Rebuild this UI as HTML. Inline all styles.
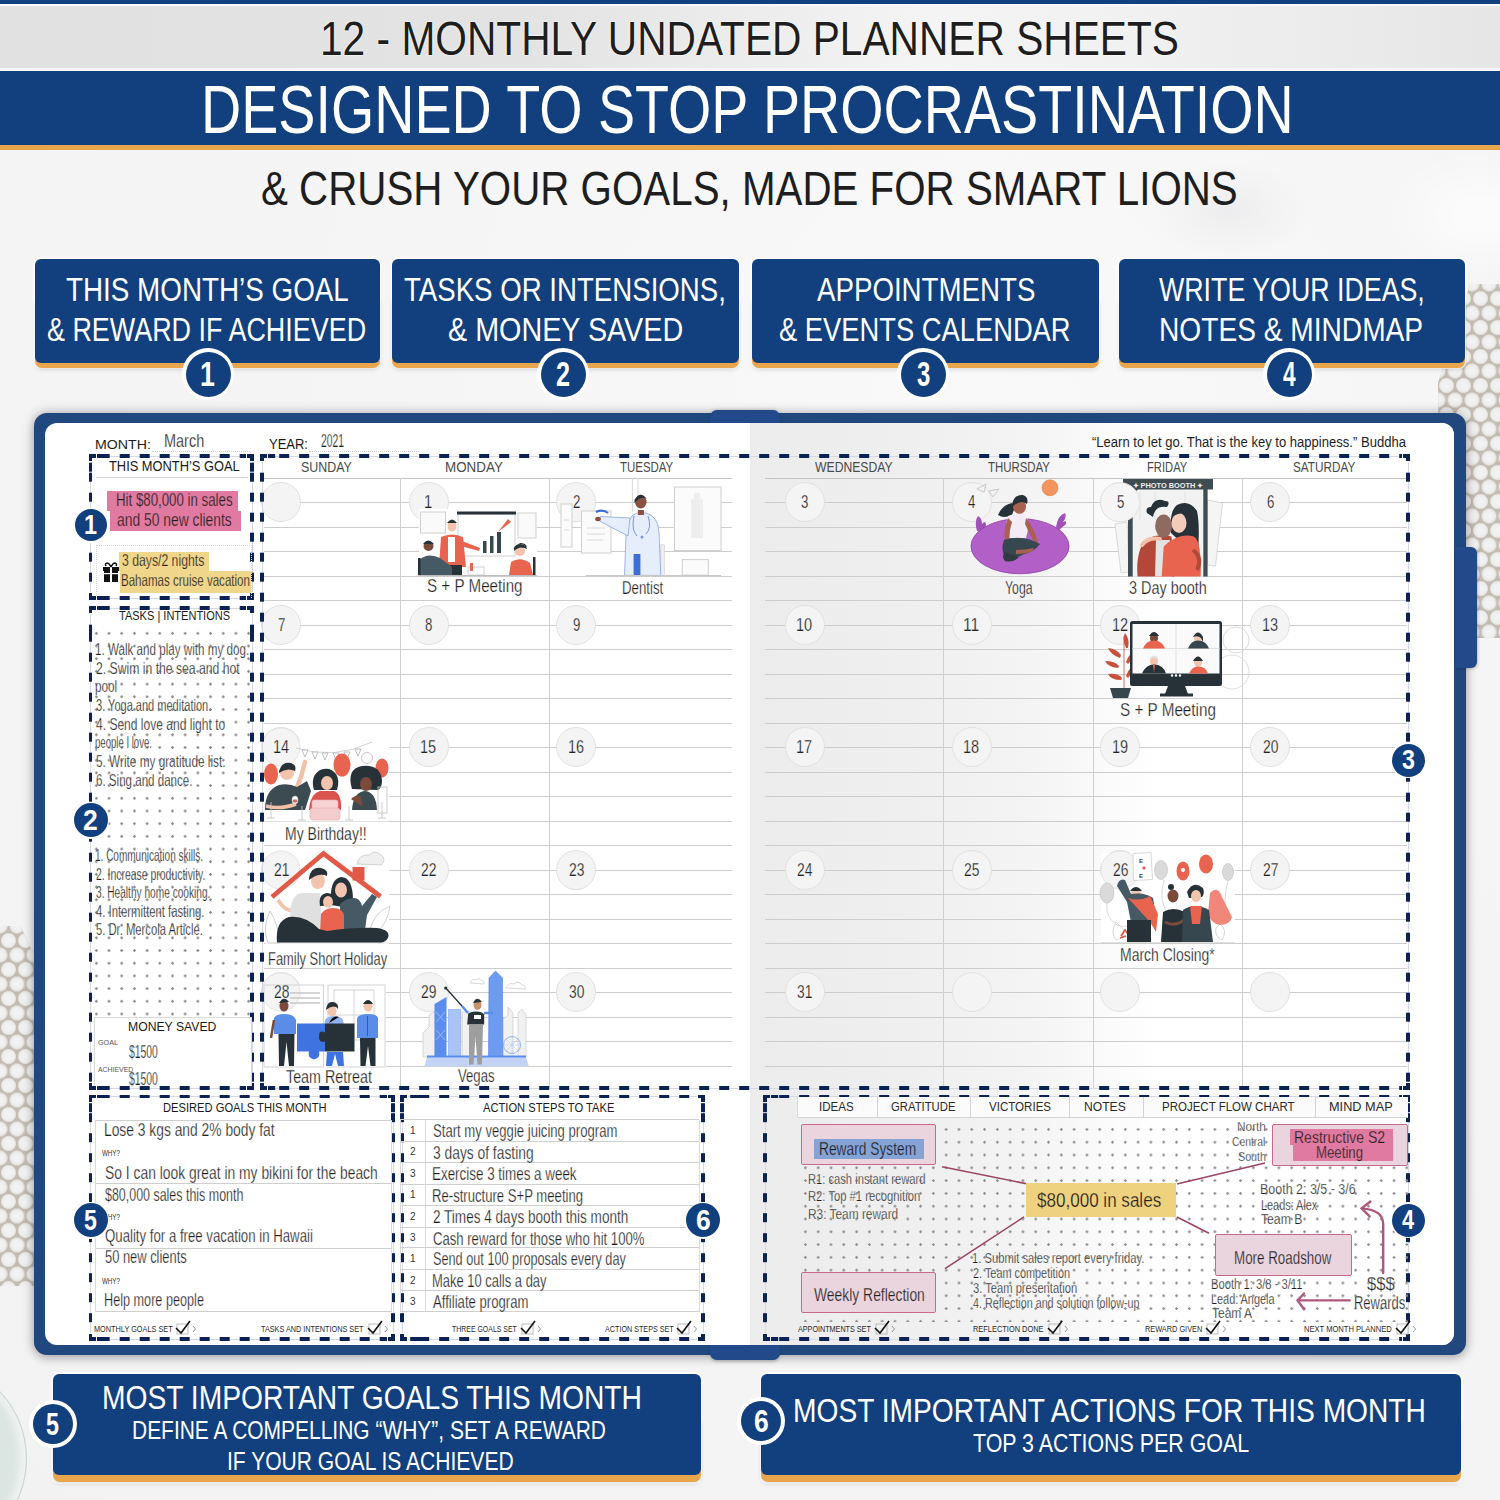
<!DOCTYPE html><html><head><meta charset="utf-8"><style>html,body{margin:0;padding:0;}body{width:1500px;height:1500px;position:relative;overflow:hidden;background:#f5f4f5;font-family:"Liberation Sans",sans-serif;}.t{position:absolute;white-space:nowrap;line-height:1;transform-origin:0 0;}</style></head><body><div style="position:absolute;left:0;top:150px;width:1500px;height:1350px;background:radial-gradient(ellipse at 65% 20%,#faf9fa 0%,#f6f5f6 45%,#f3f2f3 100%);"></div>
<div style="position:absolute;left:1380px;top:150px;width:200px;height:130px;border-radius:50%;background:radial-gradient(ellipse at 50% 50%,rgba(255,255,255,0.7),rgba(255,255,255,0) 70%);"></div>
<div style="position:absolute;left:1150px;top:160px;width:160px;height:100px;border-radius:50%;background:radial-gradient(ellipse at 50% 50%,rgba(228,228,230,0.55),rgba(240,240,240,0) 70%);"></div>
<div style="position:absolute;left:-150px;top:1365px;width:175px;height:185px;border-radius:50%;background:#dbe5e1;border:1.5px solid #c8d3cf;box-shadow:inset -6px 0 10px rgba(255,255,255,0.6);"></div>
<div style="position:absolute;left:1438px;top:284px;width:62px;height:354px;background-color:#c2bbb2;background-image:radial-gradient(circle at 50% 50%,#f4f4f4 0,#eeeeee 5.8px,#e2dfda 7.2px,rgba(0,0,0,0) 7.8px),radial-gradient(circle at 50% 50%,#f4f4f4 0,#eeeeee 5.8px,#e2dfda 7.2px,rgba(0,0,0,0) 7.8px);background-size:17px 29px;background-position:0 0,8.5px 14.5px;clip-path:polygon(52% 0,100% 0,100% 100%,4% 100%,0 28%);"></div>
<div style="position:absolute;left:0px;top:926px;width:34px;height:360px;background-color:#c2bbb2;background-image:radial-gradient(circle at 50% 50%,#f4f4f4 0,#eeeeee 5.8px,#e2dfda 7.2px,rgba(0,0,0,0) 7.8px),radial-gradient(circle at 50% 50%,#f4f4f4 0,#eeeeee 5.8px,#e2dfda 7.2px,rgba(0,0,0,0) 7.8px);background-size:17px 29px;background-position:0 0,8.5px 14.5px;clip-path:polygon(0 0,60% 0,100% 8%,100% 100%,0 100%);"></div>
<div style="position:absolute;left:0px;top:0px;width:1500px;height:4px;background:#123f7d"></div>
<div style="position:absolute;left:0px;top:4px;width:1500px;height:2px;background:#fafafa"></div>
<div style="position:absolute;left:0px;top:6px;width:1500px;height:62px;background:linear-gradient(90deg,#e1e1e1 0%,#e3e3e3 35%,#f4f4f4 62%,#f1f1f1 75%,#e6e6e6 100%)"></div>
<div style="position:absolute;left:0px;top:68px;width:1500px;height:3px;background:#f6f6f6"></div>
<div style="position:absolute;left:0px;top:71px;width:1500px;height:74px;background:#123f7d"></div>
<div style="position:absolute;left:0px;top:145px;width:1500px;height:5px;background:#e8a54b"></div>
<div class="t" id="t1" style="left:320.49px;top:13.61px;font-size:48.55px;color:#1e1e1e;font-weight:400;font-family:'Liberation Sans',sans-serif;transform:scaleX(0.8379);text-shadow:0 0 2px #fff,0 0 2px #fff;">12 - MONTHLY UNDATED PLANNER SHEETS</div>
<div class="t" id="t2" style="left:200.95px;top:75.80px;font-size:68.75px;color:#ffffff;font-weight:400;font-family:'Liberation Sans',sans-serif;transform:scaleX(0.8096);">DESIGNED TO STOP PROCRASTINATION</div>
<div class="t" id="t3" style="left:261.15px;top:165.19px;font-size:47.38px;color:#1e1e1e;font-weight:400;font-family:'Liberation Sans',sans-serif;transform:scaleX(0.8510);">&amp; CRUSH YOUR GOALS, MADE FOR SMART LIONS</div>
<div style="position:absolute;left:33.3px;top:257.3px;width:347.9px;height:112px;border-radius:7px;background:rgba(255,255,255,0.85);"></div>
<div style="position:absolute;left:34.5px;top:300px;width:345.5px;height:68px;border-radius:0 0 7px 7px;background:#e8a54b;box-shadow:0 2px 4px rgba(0,0,0,0.12);"></div>
<div style="position:absolute;left:34.5px;top:258.5px;width:345.5px;height:104px;border-radius:6px;background:#123f7d;"></div>
<div class="t" id="t4" style="left:66.00px;top:273.45px;font-size:33.14px;color:#fff;font-weight:400;font-family:'Liberation Sans',sans-serif;transform:scaleX(0.8398);">THIS MONTH&#8217;S GOAL</div>
<div class="t" id="t5" style="left:47.19px;top:313.45px;font-size:33.14px;color:#fff;font-weight:400;font-family:'Liberation Sans',sans-serif;transform:scaleX(0.8126);">&amp; REWARD IF ACHIEVED</div>
<div style="position:absolute;left:182px;top:348px;width:52px;height:52px;border-radius:50%;background:#fff;"></div>
<div style="position:absolute;left:185.5px;top:351.5px;width:45.0px;height:45.0px;border-radius:50%;background:#123f7d;"></div>
<div class="t" id="t6" style="left:200.13px;top:356.61px;font-size:35.61px;color:#fff;font-weight:700;font-family:'Liberation Sans',sans-serif;transform:scaleX(0.7494);">1</div>
<div style="position:absolute;left:390.8px;top:257.3px;width:349.4px;height:112px;border-radius:7px;background:rgba(255,255,255,0.85);"></div>
<div style="position:absolute;left:392px;top:300px;width:347px;height:68px;border-radius:0 0 7px 7px;background:#e8a54b;box-shadow:0 2px 4px rgba(0,0,0,0.12);"></div>
<div style="position:absolute;left:392px;top:258.5px;width:347px;height:104px;border-radius:6px;background:#123f7d;"></div>
<div class="t" id="t7" style="left:404.00px;top:273.45px;font-size:33.14px;color:#fff;font-weight:400;font-family:'Liberation Sans',sans-serif;transform:scaleX(0.8340);">TASKS OR INTENSIONS,</div>
<div class="t" id="t8" style="left:447.63px;top:313.45px;font-size:33.14px;color:#fff;font-weight:400;font-family:'Liberation Sans',sans-serif;transform:scaleX(0.8670);">&amp; MONEY SAVED</div>
<div style="position:absolute;left:537px;top:348px;width:52px;height:52px;border-radius:50%;background:#fff;"></div>
<div style="position:absolute;left:540.5px;top:351.5px;width:45.0px;height:45.0px;border-radius:50%;background:#123f7d;"></div>
<div class="t" id="t9" style="left:555.92px;top:356.61px;font-size:35.61px;color:#fff;font-weight:700;font-family:'Liberation Sans',sans-serif;transform:scaleX(0.7078);">2</div>
<div style="position:absolute;left:750.3px;top:257.3px;width:349.9px;height:112px;border-radius:7px;background:rgba(255,255,255,0.85);"></div>
<div style="position:absolute;left:751.5px;top:300px;width:347.5px;height:68px;border-radius:0 0 7px 7px;background:#e8a54b;box-shadow:0 2px 4px rgba(0,0,0,0.12);"></div>
<div style="position:absolute;left:751.5px;top:258.5px;width:347.5px;height:104px;border-radius:6px;background:#123f7d;"></div>
<div class="t" id="t10" style="left:816.50px;top:273.45px;font-size:33.14px;color:#fff;font-weight:400;font-family:'Liberation Sans',sans-serif;transform:scaleX(0.8357);">APPOINTMENTS</div>
<div class="t" id="t11" style="left:779.17px;top:313.45px;font-size:33.14px;color:#fff;font-weight:400;font-family:'Liberation Sans',sans-serif;transform:scaleX(0.8250);">&amp; EVENTS CALENDAR</div>
<div style="position:absolute;left:897px;top:348px;width:52px;height:52px;border-radius:50%;background:#fff;"></div>
<div style="position:absolute;left:900.5px;top:351.5px;width:45.0px;height:45.0px;border-radius:50%;background:#123f7d;"></div>
<div class="t" id="t12" style="left:916.63px;top:356.61px;font-size:35.61px;color:#fff;font-weight:700;font-family:'Liberation Sans',sans-serif;transform:scaleX(0.6705);">3</div>
<div style="position:absolute;left:1117.3px;top:257.3px;width:348.9px;height:112px;border-radius:7px;background:rgba(255,255,255,0.85);"></div>
<div style="position:absolute;left:1118.5px;top:300px;width:346.5px;height:68px;border-radius:0 0 7px 7px;background:#e8a54b;box-shadow:0 2px 4px rgba(0,0,0,0.12);"></div>
<div style="position:absolute;left:1118.5px;top:258.5px;width:346.5px;height:104px;border-radius:6px;background:#123f7d;"></div>
<div class="t" id="t13" style="left:1159.00px;top:273.45px;font-size:33.14px;color:#fff;font-weight:400;font-family:'Liberation Sans',sans-serif;transform:scaleX(0.8083);">WRITE YOUR IDEAS,</div>
<div class="t" id="t14" style="left:1159.30px;top:313.45px;font-size:33.14px;color:#fff;font-weight:400;font-family:'Liberation Sans',sans-serif;transform:scaleX(0.8492);">NOTES &amp; MINDMAP</div>
<div style="position:absolute;left:1263px;top:348px;width:52px;height:52px;border-radius:50%;background:#fff;"></div>
<div style="position:absolute;left:1266.5px;top:351.5px;width:45.0px;height:45.0px;border-radius:50%;background:#123f7d;"></div>
<div class="t" id="t15" style="left:1282.63px;top:356.61px;font-size:35.61px;color:#fff;font-weight:700;font-family:'Liberation Sans',sans-serif;transform:scaleX(0.6370);">4</div>
<div style="position:absolute;left:34px;top:413px;width:1432px;height:942px;border-radius:13px;background:#21477f;box-shadow:0 0 12px rgba(0,0,0,0.30),0 4px 8px rgba(0,0,0,0.12);"></div>
<div style="position:absolute;left:710px;top:410px;width:70px;height:16px;border-radius:7px 7px 0 0;background:#22498a;box-shadow:0 -1px 3px rgba(0,0,0,0.15);"></div>
<div style="position:absolute;left:710px;top:1342px;width:70px;height:18px;border-radius:0 0 7px 7px;background:#22498a;box-shadow:0 2px 3px rgba(0,0,0,0.2);"></div>
<div style="position:absolute;left:1455px;top:547px;width:22px;height:121px;border-radius:0 6px 6px 0;background:#22498a;box-shadow:1px 1px 3px rgba(0,0,0,0.2);"></div>
<div style="position:absolute;left:45px;top:423px;width:1409px;height:922px;border-radius:12px;background:#fff;overflow:hidden;"><div style="position:absolute;left:705px;top:0;width:704px;height:922px;background:linear-gradient(90deg,#ececec 0%,#efefef 22%,#f3f3f3 38%,#fafafa 50%,#ffffff 58%);"></div></div>
<div style="position:absolute;left:264px;top:477.5px;width:468px;height:1.2px;background:#c4c4c4;"></div>
<div style="position:absolute;left:765px;top:477.5px;width:642px;height:1.2px;background:#c4c4c4;"></div>
<div style="position:absolute;left:264px;top:502.0px;width:468px;height:1.2px;background:#cdcdcd;"></div>
<div style="position:absolute;left:765px;top:502.0px;width:642px;height:1.2px;background:#cdcdcd;"></div>
<div style="position:absolute;left:264px;top:526.5px;width:468px;height:1.2px;background:#cdcdcd;"></div>
<div style="position:absolute;left:765px;top:526.5px;width:642px;height:1.2px;background:#cdcdcd;"></div>
<div style="position:absolute;left:264px;top:551.0px;width:468px;height:1.2px;background:#cdcdcd;"></div>
<div style="position:absolute;left:765px;top:551.0px;width:642px;height:1.2px;background:#cdcdcd;"></div>
<div style="position:absolute;left:264px;top:575.5px;width:468px;height:1.2px;background:#cdcdcd;"></div>
<div style="position:absolute;left:765px;top:575.5px;width:642px;height:1.2px;background:#cdcdcd;"></div>
<div style="position:absolute;left:264px;top:600.0px;width:468px;height:1.2px;background:#cdcdcd;"></div>
<div style="position:absolute;left:765px;top:600.0px;width:642px;height:1.2px;background:#cdcdcd;"></div>
<div style="position:absolute;left:264px;top:624.5px;width:468px;height:1.2px;background:#cdcdcd;"></div>
<div style="position:absolute;left:765px;top:624.5px;width:642px;height:1.2px;background:#cdcdcd;"></div>
<div style="position:absolute;left:264px;top:649.0px;width:468px;height:1.2px;background:#cdcdcd;"></div>
<div style="position:absolute;left:765px;top:649.0px;width:642px;height:1.2px;background:#cdcdcd;"></div>
<div style="position:absolute;left:264px;top:673.5px;width:468px;height:1.2px;background:#cdcdcd;"></div>
<div style="position:absolute;left:765px;top:673.5px;width:642px;height:1.2px;background:#cdcdcd;"></div>
<div style="position:absolute;left:264px;top:698.0px;width:468px;height:1.2px;background:#cdcdcd;"></div>
<div style="position:absolute;left:765px;top:698.0px;width:642px;height:1.2px;background:#cdcdcd;"></div>
<div style="position:absolute;left:264px;top:722.5px;width:468px;height:1.2px;background:#cdcdcd;"></div>
<div style="position:absolute;left:765px;top:722.5px;width:642px;height:1.2px;background:#cdcdcd;"></div>
<div style="position:absolute;left:264px;top:747.0px;width:468px;height:1.2px;background:#cdcdcd;"></div>
<div style="position:absolute;left:765px;top:747.0px;width:642px;height:1.2px;background:#cdcdcd;"></div>
<div style="position:absolute;left:264px;top:771.5px;width:468px;height:1.2px;background:#cdcdcd;"></div>
<div style="position:absolute;left:765px;top:771.5px;width:642px;height:1.2px;background:#cdcdcd;"></div>
<div style="position:absolute;left:264px;top:796.0px;width:468px;height:1.2px;background:#cdcdcd;"></div>
<div style="position:absolute;left:765px;top:796.0px;width:642px;height:1.2px;background:#cdcdcd;"></div>
<div style="position:absolute;left:264px;top:820.5px;width:468px;height:1.2px;background:#cdcdcd;"></div>
<div style="position:absolute;left:765px;top:820.5px;width:642px;height:1.2px;background:#cdcdcd;"></div>
<div style="position:absolute;left:264px;top:845.0px;width:468px;height:1.2px;background:#cdcdcd;"></div>
<div style="position:absolute;left:765px;top:845.0px;width:642px;height:1.2px;background:#cdcdcd;"></div>
<div style="position:absolute;left:264px;top:869.5px;width:468px;height:1.2px;background:#cdcdcd;"></div>
<div style="position:absolute;left:765px;top:869.5px;width:642px;height:1.2px;background:#cdcdcd;"></div>
<div style="position:absolute;left:264px;top:894.0px;width:468px;height:1.2px;background:#cdcdcd;"></div>
<div style="position:absolute;left:765px;top:894.0px;width:642px;height:1.2px;background:#cdcdcd;"></div>
<div style="position:absolute;left:264px;top:918.5px;width:468px;height:1.2px;background:#cdcdcd;"></div>
<div style="position:absolute;left:765px;top:918.5px;width:642px;height:1.2px;background:#cdcdcd;"></div>
<div style="position:absolute;left:264px;top:943.0px;width:468px;height:1.2px;background:#cdcdcd;"></div>
<div style="position:absolute;left:765px;top:943.0px;width:642px;height:1.2px;background:#cdcdcd;"></div>
<div style="position:absolute;left:264px;top:967.5px;width:468px;height:1.2px;background:#cdcdcd;"></div>
<div style="position:absolute;left:765px;top:967.5px;width:642px;height:1.2px;background:#cdcdcd;"></div>
<div style="position:absolute;left:264px;top:992.0px;width:468px;height:1.2px;background:#cdcdcd;"></div>
<div style="position:absolute;left:765px;top:992.0px;width:642px;height:1.2px;background:#cdcdcd;"></div>
<div style="position:absolute;left:264px;top:1016.5px;width:468px;height:1.2px;background:#cdcdcd;"></div>
<div style="position:absolute;left:765px;top:1016.5px;width:642px;height:1.2px;background:#cdcdcd;"></div>
<div style="position:absolute;left:264px;top:1041.0px;width:468px;height:1.2px;background:#cdcdcd;"></div>
<div style="position:absolute;left:765px;top:1041.0px;width:642px;height:1.2px;background:#cdcdcd;"></div>
<div style="position:absolute;left:264px;top:1065.5px;width:468px;height:1.2px;background:#cdcdcd;"></div>
<div style="position:absolute;left:765px;top:1065.5px;width:642px;height:1.2px;background:#cdcdcd;"></div>
<div style="position:absolute;left:399.8px;top:478px;width:1px;height:610px;background:#d0d0d0;"></div>
<div style="position:absolute;left:548.5px;top:478px;width:1px;height:610px;background:#d0d0d0;"></div>
<div style="position:absolute;left:942.5px;top:478px;width:1px;height:610px;background:#d0d0d0;"></div>
<div style="position:absolute;left:1092.5px;top:478px;width:1px;height:610px;background:#d0d0d0;"></div>
<div style="position:absolute;left:1241.5px;top:478px;width:1px;height:610px;background:#d0d0d0;"></div>
<div style="position:absolute;left:261px;top:482.2px;width:38px;height:38px;border-radius:50%;background:#f4f4f4;border:1.2px solid #e1e1e1;"></div>
<div style="position:absolute;left:408.6px;top:482.2px;width:38px;height:38px;border-radius:50%;background:#f4f4f4;border:1.2px solid #e1e1e1;"></div>
<div style="position:absolute;left:556.4px;top:482.2px;width:38px;height:38px;border-radius:50%;background:#f4f4f4;border:1.2px solid #e1e1e1;"></div>
<div style="position:absolute;left:784.5px;top:482.2px;width:38px;height:38px;border-radius:50%;background:#f4f4f4;border:1.2px solid #e1e1e1;"></div>
<div style="position:absolute;left:951.5px;top:482.2px;width:38px;height:38px;border-radius:50%;background:#f4f4f4;border:1.2px solid #e1e1e1;"></div>
<div style="position:absolute;left:1100px;top:482.2px;width:38px;height:38px;border-radius:50%;background:#f4f4f4;border:1.2px solid #e1e1e1;"></div>
<div style="position:absolute;left:1250px;top:482.2px;width:38px;height:38px;border-radius:50%;background:#f4f4f4;border:1.2px solid #e1e1e1;"></div>
<div style="position:absolute;left:261px;top:604.7px;width:38px;height:38px;border-radius:50%;background:#f4f4f4;border:1.2px solid #e1e1e1;"></div>
<div style="position:absolute;left:408.6px;top:604.7px;width:38px;height:38px;border-radius:50%;background:#f4f4f4;border:1.2px solid #e1e1e1;"></div>
<div style="position:absolute;left:556.4px;top:604.7px;width:38px;height:38px;border-radius:50%;background:#f4f4f4;border:1.2px solid #e1e1e1;"></div>
<div style="position:absolute;left:784.5px;top:604.7px;width:38px;height:38px;border-radius:50%;background:#f4f4f4;border:1.2px solid #e1e1e1;"></div>
<div style="position:absolute;left:951.5px;top:604.7px;width:38px;height:38px;border-radius:50%;background:#f4f4f4;border:1.2px solid #e1e1e1;"></div>
<div style="position:absolute;left:1100px;top:604.7px;width:38px;height:38px;border-radius:50%;background:#f4f4f4;border:1.2px solid #e1e1e1;"></div>
<div style="position:absolute;left:1250px;top:604.7px;width:38px;height:38px;border-radius:50%;background:#f4f4f4;border:1.2px solid #e1e1e1;"></div>
<div style="position:absolute;left:261px;top:727.2px;width:38px;height:38px;border-radius:50%;background:#f4f4f4;border:1.2px solid #e1e1e1;"></div>
<div style="position:absolute;left:408.6px;top:727.2px;width:38px;height:38px;border-radius:50%;background:#f4f4f4;border:1.2px solid #e1e1e1;"></div>
<div style="position:absolute;left:556.4px;top:727.2px;width:38px;height:38px;border-radius:50%;background:#f4f4f4;border:1.2px solid #e1e1e1;"></div>
<div style="position:absolute;left:784.5px;top:727.2px;width:38px;height:38px;border-radius:50%;background:#f4f4f4;border:1.2px solid #e1e1e1;"></div>
<div style="position:absolute;left:951.5px;top:727.2px;width:38px;height:38px;border-radius:50%;background:#f4f4f4;border:1.2px solid #e1e1e1;"></div>
<div style="position:absolute;left:1100px;top:727.2px;width:38px;height:38px;border-radius:50%;background:#f4f4f4;border:1.2px solid #e1e1e1;"></div>
<div style="position:absolute;left:1250px;top:727.2px;width:38px;height:38px;border-radius:50%;background:#f4f4f4;border:1.2px solid #e1e1e1;"></div>
<div style="position:absolute;left:261px;top:849.7px;width:38px;height:38px;border-radius:50%;background:#f4f4f4;border:1.2px solid #e1e1e1;"></div>
<div style="position:absolute;left:408.6px;top:849.7px;width:38px;height:38px;border-radius:50%;background:#f4f4f4;border:1.2px solid #e1e1e1;"></div>
<div style="position:absolute;left:556.4px;top:849.7px;width:38px;height:38px;border-radius:50%;background:#f4f4f4;border:1.2px solid #e1e1e1;"></div>
<div style="position:absolute;left:784.5px;top:849.7px;width:38px;height:38px;border-radius:50%;background:#f4f4f4;border:1.2px solid #e1e1e1;"></div>
<div style="position:absolute;left:951.5px;top:849.7px;width:38px;height:38px;border-radius:50%;background:#f4f4f4;border:1.2px solid #e1e1e1;"></div>
<div style="position:absolute;left:1100px;top:849.7px;width:38px;height:38px;border-radius:50%;background:#f4f4f4;border:1.2px solid #e1e1e1;"></div>
<div style="position:absolute;left:1250px;top:849.7px;width:38px;height:38px;border-radius:50%;background:#f4f4f4;border:1.2px solid #e1e1e1;"></div>
<div style="position:absolute;left:261px;top:972.2px;width:38px;height:38px;border-radius:50%;background:#f4f4f4;border:1.2px solid #e1e1e1;"></div>
<div style="position:absolute;left:408.6px;top:972.2px;width:38px;height:38px;border-radius:50%;background:#f4f4f4;border:1.2px solid #e1e1e1;"></div>
<div style="position:absolute;left:556.4px;top:972.2px;width:38px;height:38px;border-radius:50%;background:#f4f4f4;border:1.2px solid #e1e1e1;"></div>
<div style="position:absolute;left:784.5px;top:972.2px;width:38px;height:38px;border-radius:50%;background:#f4f4f4;border:1.2px solid #e1e1e1;"></div>
<div style="position:absolute;left:951.5px;top:972.2px;width:38px;height:38px;border-radius:50%;background:#f4f4f4;border:1.2px solid #e1e1e1;"></div>
<div style="position:absolute;left:1100px;top:972.2px;width:38px;height:38px;border-radius:50%;background:#f4f4f4;border:1.2px solid #e1e1e1;"></div>
<div style="position:absolute;left:1250px;top:972.2px;width:38px;height:38px;border-radius:50%;background:#f4f4f4;border:1.2px solid #e1e1e1;"></div>
<svg style="position:absolute;left:0;top:0;" width="1500" height="1500" viewBox="0 0 1500 1500"><rect x="419" y="509" width="118" height="67" fill="#fff"/><g stroke="#d0d0d0" stroke-width="1" fill="#fafafa"><rect x="420.5" y="512" width="25" height="21"/><rect x="518" y="513" width="18" height="25"/><rect x="458" y="514" width="57" height="42" fill="#fff"/></g><rect x="457" y="511.5" width="59" height="3" fill="#263238"/><g fill="#37474f"><rect x="483" y="541" width="3.5" height="12"/><rect x="490" y="536" width="3.5" height="17"/><rect x="497" y="532" width="4" height="21"/></g><path d="M498 532 L508 519 L511 522 Z" fill="#e8644e"/><ellipse cx="452" cy="526" rx="4.5" ry="5.5" fill="#f2c4ae"/><path d="M447 523 Q452 516 457 523 Z" fill="#263238"/><path d="M441 537 Q452 532 463 537 L466 567 L439 567 Z" fill="#e8644e"/><rect x="448" y="537" width="7" height="25" fill="#fff"/><path d="M462 541 L480 548 L479 551 L461 546 Z" fill="#e8644e"/><rect x="444" y="565" width="18" height="10" fill="#263238"/><circle cx="428.5" cy="546" r="5" fill="#7a4a3a"/><path d="M423 544 Q428 537 434 544 Z" fill="#263238"/><path d="M419 575 L419 560 Q428 552 440 558 L452 567 L452 575 Z" fill="#455a64"/><rect x="418" y="558" width="2.5" height="17" fill="#263238"/><circle cx="520" cy="551" r="5" fill="#f2c4ae"/><path d="M513 549 Q519 540 527 547 Q526 543 520 543 Z" fill="#263238"/><path d="M514 548 Q518 541 526 546 L527 549 Q520 545 514 551 Z" fill="#263238"/><path d="M509 575 L511 562 Q520 556 530 563 L533 575 Z" fill="#e8644e"/><rect x="533" y="557" width="2.5" height="18" fill="#263238"/><rect x="468" y="567" width="16" height="8" fill="none" stroke="#cfcfcf"/><rect x="470" y="563" width="3" height="8" fill="#e8644e"/><line x1="418" y1="575.5" x2="537" y2="575.5" stroke="#bdbdbd" stroke-width="1"/><g stroke="#cfcfcf" stroke-width="1" fill="#fbfbfb"><rect x="561" y="504" width="11" height="43"/><rect x="581.5" y="511" width="29.5" height="42"/><rect x="674.5" y="487" width="46.5" height="63.5"/><rect x="682.3" y="559.6" width="26" height="15.5"/></g><g stroke="#d8d8d8" stroke-width="1"><line x1="632.4" y1="478" x2="632.4" y2="512"/><line x1="638" y1="478" x2="638" y2="512"/><line x1="564" y1="520" x2="569" y2="520"/><line x1="564" y1="530" x2="569" y2="530"/></g><g stroke="#e0e0e0" stroke-width="1.3"><line x1="587" y1="528" x2="605" y2="528"/><line x1="587" y1="534" x2="605" y2="534"/><line x1="587" y1="540" x2="603" y2="540"/></g><path d="M691 500 q6 -5 12 0 v38 h-12 z" fill="#eeeeee"/><circle cx="697" cy="496" r="3.5" fill="#eeeeee"/><rect x="660.8" y="544.8" width="3.5" height="30.5" fill="#f0f0f0" stroke="#cfcfcf" stroke-width="0.7"/><path d="M596 512 Q603 509 608 513" stroke="#3b6fd6" stroke-width="2.2" fill="none"/><path d="M624.5 575.4 L626 535 Q627 516 637 513 L646 513 Q658 516 659 532 L660.8 575.4 Z" fill="#e6edfb" stroke="#8aa4e0" stroke-width="0.8"/><path d="M630 518 L600 516.5 L599.5 521 L628 536 Z" fill="#e6edfb" stroke="#8aa4e0" stroke-width="0.8"/><ellipse cx="598" cy="519" rx="2.8" ry="2.2" fill="#8a5240"/><path d="M633.6 554 L640.4 554 L640.4 575.4 L633.6 575.4 Z" fill="#3b6fd6"/><path d="M638 510 h6 v5 h-6 z" fill="#8a5240"/><ellipse cx="640.8" cy="502" rx="5.8" ry="6.5" fill="#8a5240"/><path d="M634.5 500 Q640 490 647 499 Q641 495 634.5 503 Z" fill="#263238"/><path d="M634 516 Q631 530 637 536 M648 516 Q652 528 646 534" stroke="#7d96d6" stroke-width="1" fill="none"/><circle cx="642" cy="537" r="1.5" fill="#7d96d6"/><line x1="586" y1="575.5" x2="721" y2="575.5" stroke="#c8c8c8" stroke-width="1.2"/><path d="M977 489 l9 -5 l-2 8 z M989 491 l10 -2 l-6 8 z" fill="none" stroke="#c9c9c9" stroke-width="1"/><circle cx="1050" cy="487.8" r="8" fill="#f2955f" stroke="#de7d4a" stroke-width="0.6"/><path d="M977 531 q-3 -10 1 -15 q4 2 4 8 q3 -4 4 0 l-1 9 z M1056 527 q2 -12 9 -14 q2 4 -2 9 q4 -2 3 2 l-7 6 z" fill="#a052b8"/><ellipse cx="1020" cy="546.2" rx="49" ry="27.6" fill="#b35fc8" stroke="#8e3fa6" stroke-width="0.8"/><path d="M1012 503 q-10 2 -14 12 q6 4 14 0 q2 -6 4 -8 z" fill="#263238"/><ellipse cx="1019.5" cy="506.5" rx="6.5" ry="7.5" fill="#a8614f"/><path d="M1012 505 q2 -11 11 -10 q6 2 4 9 q-6 -5 -15 3 z" fill="#263238"/><path d="M1008 538 q-4 -10 0 -22 q6 -3 18 -2 q4 12 0 24 z" fill="#f4ecf4"/><path d="M1008 518 q-6 14 -2 30 l4 0 q-2 -14 2 -26 z M1026 518 q8 10 12 24 l-3 2 q-6 -12 -10 -20 z" fill="#a8614f"/><path d="M1004 540 q18 -6 36 4 q-6 8 -16 10 q-10 6 -18 4 q-6 -8 -2 -18 z" fill="#37474f"/><path d="M1005 552 q-4 4 0 9 q8 2 14 -4 z" fill="#2f3b40"/><path d="M1016 550 q10 0 18 -2 l-2 4 q-8 2 -16 2 z" fill="#a8614f"/><g fill="#f5f5f5" stroke="#d0d0d0" stroke-width="0.8"><path d="M1115 524 l12 -2 l2 50 l-8 1 z"/><path d="M1207.5 500 l15 3 l-7 63 l-8 -1 z"/></g><rect x="1132.5" y="489" width="71" height="87.5" fill="#f2f2f2"/><g stroke="#e2e2e2" stroke-width="1"><line x1="1140" y1="492" x2="1140" y2="520"/><line x1="1155" y1="492" x2="1155" y2="520"/><line x1="1185" y1="492" x2="1185" y2="520"/></g><path d="M1123 479 h90 v10.6 h-75 l-4 3 h-11 z" fill="#3f4c52"/><text x="1168" y="487.6" font-size="7.4" font-family="Liberation Sans" font-weight="700" fill="#f0f0f0" text-anchor="middle">&#10022; PHOTO BOOTH &#10022;</text><rect x="1128" y="489" width="4.7" height="87.5" fill="#3f4c52"/><rect x="1203.3" y="489" width="4.3" height="87.5" fill="#3f4c52"/><path d="M1171 533 q-2 -22 6 -28 q12 -6 20 6 q3 14 1 42 l-12 -6 z" fill="#263238"/><path d="M1137.5 576.5 q-2 -28 10 -38 q12 -6 24 -2 l3 40 z" fill="#b3473a"/><path d="M1156 540 h14 l2 36.5 h-17 z" fill="#e3e3e3"/><path d="M1161.7 576.5 l2 -30 q14 -14 30 -10 q8 4 7 40 z" fill="#e8644e"/><ellipse cx="1163.6" cy="526" rx="8.5" ry="11.5" fill="#8f6a60"/><path d="M1153 517 q2 -12 14 -10 q4 -6 -2 -6 q-10 -4 -14 6 q-6 0 -4 6 z" fill="#263238"/><ellipse cx="1179" cy="523" rx="7.5" ry="10" fill="#f3cbb9"/><path d="M1172 515 q6 -10 16 -8 l-4 6 q-6 0 -12 4 z" fill="#263238"/><path d="M1142 545 q6 -8 18 -6" stroke="#f0c0a8" stroke-width="4" fill="none" stroke-linecap="round"/><path d="M1193 550 q10 8 4 20" stroke="#b3473a" stroke-width="4" fill="none"/><circle cx="1120" cy="502.2" r="19.5" fill="#f5f5f5" stroke="#e3e3e3" stroke-width="1"/><g fill="none" stroke="#d8d8d8" stroke-width="0.9"><circle cx="1236" cy="640" r="13"/><circle cx="1232" cy="672" r="17"/></g><g fill="#c9503d"><path d="M1120 658 q-9 -3 -12 -10 q9 1 13 7 z"/><path d="M1118 668 q-10 -1 -13 -7 q10 0 14 5 z"/><path d="M1121 680 q-10 0 -13 -6 q10 -1 14 4 z"/><path d="M1126 648 q-4 -8 -1 -15 q5 6 3 15 z"/><path d="M1126 662 q3 -8 8 -10 q-1 7 -6 12 z"/><path d="M1126 676 q3 -8 8 -10 q-1 7 -6 12 z"/></g><line x1="1124" y1="690" x2="1124" y2="636" stroke="#c9503d" stroke-width="0.8"/><path d="M1110 688 h21 l-3 10 h-15 z" fill="#37474f"/><rect x="1130" y="621" width="92" height="65" rx="2.5" fill="#263238"/><rect x="1132.5" y="624" width="87" height="49.5" fill="#fafafa"/><line x1="1176" y1="624" x2="1176" y2="673.5" stroke="#e0e0e0"/><line x1="1132.5" y1="648.5" x2="1219.5" y2="648.5" stroke="#e0e0e0"/><ellipse cx="1154" cy="638" rx="4" ry="5" fill="#7a4a3a"/><path d="M1149 636 q5 -8 10 0 z" fill="#263238"/><path d="M1143 648.5 q3 -8 11 -8 q8 0 11 8 z" fill="#e8644e"/><ellipse cx="1198" cy="638" rx="4" ry="5" fill="#f2c4ae"/><path d="M1193 637 q5 -9 10 0 l0 5 l-2 -4 q-3 -3 -8 -1 z" fill="#263238"/><path d="M1188 648.5 q3 -8 10 -8 q8 0 11 8 z" fill="#37474f"/><ellipse cx="1154" cy="661" rx="4" ry="5" fill="#f2c4ae"/><path d="M1150 658 q4 -5 8 0 z" fill="#e0e0e0"/><path d="M1142 673.5 q4 -9 12 -9 q9 0 12 9 z" fill="#263238"/><path d="M1153 665 l1 8 l1 -8 z" fill="#e8644e"/><ellipse cx="1198" cy="662" rx="4" ry="5" fill="#f2c4ae"/><path d="M1193 661 q5 -9 10 0 z" fill="#263238"/><path d="M1189 673.5 q3 -7 9 -7 q8 0 10 7 z" fill="#e8644e"/><g fill="#fff"><circle cx="1172" cy="675.5" r="1.2"/><circle cx="1176" cy="675.5" r="1.2"/><circle cx="1180" cy="675.5" r="1.2"/></g><path d="M1168 686 h17 l3 8 h-23 z" fill="#263238"/><rect x="1160" y="693.5" width="33" height="3" fill="#263238"/><rect x="264" y="741" width="125" height="83" fill="#fff"/><circle cx="281" cy="747" r="19" fill="#f4f4f4" stroke="#e3e3e3" stroke-width="1"/><path d="M296 748 Q335 760 372 742" stroke="#c7c7c7" fill="none" stroke-width="0.8"/><g fill="#fff" stroke="#b5b5b5" stroke-width="0.9"><path d="M302 750 h6 l-3 7z"/><path d="M312 752 h6 l-3 7z"/><path d="M322 753 h6 l-3 7z"/><path d="M333 753 h6 l-3 7z"/><path d="M344 752 h6 l-3 7z"/><path d="M355 749 h6 l-3 7z"/></g><circle cx="367" cy="758" r="5.5" fill="none" stroke="#c0c0c0" stroke-width="0.9"/><g fill="#e8644e"><ellipse cx="271" cy="774" rx="7" ry="10.5"/><ellipse cx="342" cy="765" rx="8.5" ry="11.5"/><ellipse cx="382" cy="768" rx="6.5" ry="9.5"/></g><path d="M296 790 q6 -14 9 -28" stroke="#f0c0a8" stroke-width="4.5" fill="none" stroke-linecap="round"/><circle cx="287" cy="773" r="7" fill="#f2c4ae"/><path d="M279 771 q3 -10 12 -8 q6 2 4 8 q-8 -4 -16 2 z" fill="#263238"/><path d="M265 810 q0 -20 14 -25 q10 -2 18 2 l10 -6 l4 10 l-6 19 z" fill="#3c4a52"/><path d="M266 806 q14 4 30 -2" stroke="#f0c0a8" stroke-width="3.5" fill="none"/><ellipse cx="295" cy="800" rx="3" ry="4" fill="#fff" stroke="#c9c9c9" stroke-width="0.7"/><ellipse cx="295" cy="801" rx="2.4" ry="1.8" fill="#d26d6d"/><path d="M314 790 q-4 -14 6 -20 q10 -4 16 4 q4 6 1 16 z" fill="#263238"/><ellipse cx="327" cy="783" rx="6" ry="7" fill="#f2c4ae"/><path d="M309 810 q1 -16 11 -19 h14 q8 3 7 19 z" fill="#d9534f"/><rect x="312" y="800" width="26" height="9" rx="2" fill="#f7d3d4" stroke="#e8aeb0" stroke-width="0.6"/><rect x="310" y="808" width="30" height="12" rx="3" fill="#f5cccd" stroke="#e8aeb0" stroke-width="0.6"/><path d="M352 789 q-6 -20 10 -23 q18 -2 20 14 q0 8 -4 10 z" fill="#263238"/><ellipse cx="366" cy="784" rx="6" ry="7" fill="#7a4a3a"/><path d="M352 810 q1 -17 12 -19 q12 0 13 19 z" fill="#3c4a52"/><path d="M351 799 q6 -6 10 -2 l2 10 z" fill="#7a4a3a"/><g stroke="#c5c5c5" stroke-width="0.9" fill="none"><path d="M271 802 v16 M267 818 h8"/><path d="M302 806 v14 M298 820 h8"/><path d="M349 806 v14 M345 820 h8"/><path d="M382 802 v16 M378 818 h8"/><rect x="378" y="787" width="9" height="26"/></g><line x1="264" y1="821.5" x2="389" y2="821.5" stroke="#e3e3e3" stroke-width="1"/><rect x="265" y="850" width="124" height="94" fill="#fff"/><circle cx="281" cy="870" r="19" fill="#f4f4f4" stroke="#e3e3e3" stroke-width="1"/><g fill="#fff" stroke="#c9c9c9" stroke-width="0.9"><path d="M268 943 q-6 -16 2 -32 q8 12 10 32 z"/><path d="M370 930 q4 -18 20 -24 q-2 16 -14 28 z"/></g><path d="M357 864 q2 -10 12 -9 q6 -6 12 0 q6 4 0 10 z" fill="#efefef" stroke="#c9c9c9" stroke-width="0.8"/><rect x="352.5" y="867" width="12" height="13.5" fill="#e05a47"/><path d="M272 897 L323.5 853.5 L380.5 896.5" stroke="#e05a47" stroke-width="4.8" fill="none" stroke-linejoin="miter"/><path d="M331 905 q-2 -26 10 -28 q12 0 12 24 l2 8 z" fill="#263238"/><path d="M340 930 l0 -26 q6 -6 14 -6 q6 0 8 8 l10 -12 l5 3 l-10 18 l-2 15 z" fill="#455a64"/><ellipse cx="341" cy="890" rx="6" ry="7.5" fill="#f2c4ae"/><path d="M278 900 q8 12 14 10" stroke="#f2c4ae" stroke-width="4" fill="none"/><path d="M290 912 q2 -18 12 -19 h18 l2 40 h-30 z" fill="#e0e0e0"/><ellipse cx="318" cy="881" rx="7" ry="8" fill="#f2c4ae"/><path d="M309 878 q2 -12 12 -10 q8 2 6 8 q-8 -4 -18 4 z" fill="#263238"/><path d="M320 906 q-2 -12 7 -13 q8 0 8 12 z" fill="#263238"/><ellipse cx="328" cy="902" rx="5" ry="6" fill="#f2c4ae"/><path d="M320 934 l1 -20 q4 -6 12 -6 q10 0 11 8 l0 18 z" fill="#e8644e"/><path d="M277 943 q-2 -22 12 -26 q16 -2 30 12 l8 2 q28 -4 50 -3 q14 2 11 10 q-4 6 -10 5 z" fill="#263238"/><line x1="265" y1="943" x2="389" y2="943" stroke="#e0e0e0" stroke-width="1"/><rect x="264" y="984" width="122" height="83" fill="#fff"/><circle cx="281" cy="992" r="19" fill="#f4f4f4" stroke="#e3e3e3" stroke-width="1"/><g fill="none" stroke="#d4d4d4" stroke-width="1"><rect x="264" y="985" width="59.5" height="82"/><rect x="328" y="985" width="57" height="82"/><rect x="334" y="990" width="40" height="50"/><line x1="354" y1="990" x2="354" y2="1040"/><line x1="334" y1="1015" x2="374" y2="1015"/></g><g stroke="#c9c9c9" stroke-width="1.6"><line x1="290" y1="993" x2="320" y2="993"/><line x1="290" y1="998" x2="320" y2="998"/><line x1="290" y1="1003" x2="320" y2="1003"/></g><ellipse cx="284" cy="1006" rx="4.5" ry="5.5" fill="#7a4a3a"/><path d="M279 1003 q5 -8 10 -1 z" fill="#263238"/><path d="M274 1034 l0 -16 q2 -4 10 -4 q10 0 12 6 l0 14 z" fill="#5a8de8"/><path d="M278.5 1034 h16 l-0.5 32 h-5 l-2.5 -24 l-2.5 24 h-5 z" fill="#263238"/><path d="M274 1020 l-3 18" stroke="#7a4a3a" stroke-width="2.5"/><ellipse cx="332" cy="1011" rx="4.5" ry="5.5" fill="#f2c4ae"/><path d="M326 1010 q1 -9 7 -8 q6 1 5 7 l-2 -2 q-5 -2 -10 3 z" fill="#263238"/><path d="M324 1030 l1 -10 q3 -4 8 -4 q8 0 10 4 l2 10 z" fill="#8fb3ef"/><path d="M327 1052 l-1 14 h6 l3 -12 l3 12 h6 l-1 -14 z" fill="#3f74e0"/><path d="M297 1023.5 h28 v8 q5 -3 5 4 q0 6 -5 4 v12 h-6 q2 6 -5 8 q-7 -2 -5 -8 h-12 z" fill="#3f74e0"/><path d="M325 1023.5 h29.5 v28 h-29.5 v-10 q-6 2 -6 -5 q0 -7 6 -4 z" fill="#263238"/><path d="M329 1023 q4 -8 10 -6" stroke="#fff" stroke-width="0"/><ellipse cx="368" cy="1006" rx="4.5" ry="5.5" fill="#f2c4ae"/><path d="M363 1004 q5 -8 10 0 z" fill="#263238"/><path d="M357 1038 l0 -20 q2 -4 11 -4 q9 0 10 4 l0 20 z" fill="#5a8de8"/><path d="M360 1038 h15.5 l0 28 h-5 l-2.5 -20 l-2.5 20 h-5 z" fill="#263238"/><line x1="367.5" y1="1016" x2="367.5" y2="1036" stroke="#2e5bb8" stroke-width="1"/><g fill="#f1f1f1" stroke="#cfcfcf" stroke-width="0.8"><path d="M423 1057 v-24 l6 -6 v-12 l6 -4 v46 z"/><path d="M503 1057 v-38 l5 -4 v-8 l5 6 v44 z"/><path d="M518 1057 v-44 l4 -4 l4 6 v42 z"/><rect x="462" y="1012" width="12" height="45"/></g><path d="M434.5 1057 V1004 L446.5 997 V1057 Z" fill="#5b8def"/><path d="M436 1012 l9 10 m-9 0 l9 -10 M436 1030 l9 10 m-9 0 l9 -10" stroke="#a9c3f5" stroke-width="0.8"/><rect x="448.5" y="1009.5" width="12" height="47.5" fill="#a9c3f5" stroke="#7fa3ee" stroke-width="0.6"/><path d="M488.5 1057 L489 978 L495.5 971 L502.5 978 L502.7 1057 Z" fill="#6d9bf1" stroke="#4f7fe0" stroke-width="0.6"/><circle cx="512" cy="1045" r="8.5" fill="none" stroke="#8fb0ee" stroke-width="1"/><path d="M512 1036.5 v17 M503.5 1045 h17 M506 1039 l12 12 M518 1039 l-12 12" stroke="#b5c9f2" stroke-width="0.6"/><g fill="none" stroke="#cfcfcf" stroke-width="0.8"><path d="M470 983 q2 -5 6 -3 q3 -3 6 1 q3 0 2 3 z"/><path d="M506 988 q2 -6 8 -4 q4 -4 8 1 q4 0 3 4 z"/></g><path d="M424.3 1066.4 l3 -10 h98.5 l3 10 z" fill="#c3d3f5"/><rect x="427" y="1055.5" width="99" height="2" fill="#5b8def"/><line x1="445.7" y1="988" x2="462" y2="1006" stroke="#263238" stroke-width="1.3"/><circle cx="445.7" cy="988" r="1.6" fill="#263238"/><path d="M462 1006 l6 7" stroke="#5b8def" stroke-width="2.5"/><path d="M484 1013 l9 0" stroke="#5b8def" stroke-width="2.5"/><ellipse cx="477.5" cy="1005" rx="4" ry="5" fill="#c8926f"/><path d="M473 1003 q4 -8 9 -1 z" fill="#263238"/><path d="M467.2 1024.4 l1 -11 q3 -2 8 -2 q6 0 8 3 l0 10 z" fill="#263238"/><rect x="474" y="1015" width="7" height="4" fill="#fff"/><path d="M469 1024.4 h14 l-1 40 h-4.5 l-2 -28 l-2 28 h-4.5 z" fill="#9e9e9e"/><rect x="1101" y="853" width="134" height="90" fill="#fff"/><circle cx="1120" cy="870" r="19" fill="#f4f4f4" stroke="#e3e3e3" stroke-width="1"/><g fill="none" stroke="#cfcfcf" stroke-width="0.8"><path d="M1107 903 q-2 14 10 22 q10 4 14 -2"/><path d="M1164 880 q-6 20 4 34"/><path d="M1228 881 q-6 20 0 40"/></g><path d="M1133 853.5 l18 -1 l1.5 27 l-19 1 z" fill="#fff" stroke="#cfcfcf" stroke-width="0.8"/><g fill="#37474f" font-size="6" font-family="Liberation Sans" font-weight="700"><text x="1139" y="863">E</text><text x="1139" y="878">E</text></g><path d="M1142 868 l2 -2 l2 2 l-2 2 z" fill="#e8644e"/><g fill="#dadada" stroke="#bdbdbd" stroke-width="0.6"><ellipse cx="1161" cy="870" rx="6.5" ry="9.5"/><ellipse cx="1228" cy="872" rx="5.5" ry="8.5"/><ellipse cx="1107" cy="893" rx="7" ry="10"/></g><g fill="#e8644e"><ellipse cx="1183" cy="871" rx="6.5" ry="9.5"/><ellipse cx="1206" cy="864" rx="7" ry="9.5"/></g><circle cx="1183" cy="870" r="2" fill="#fff"/><g fill="none" stroke="#d0d0d0" stroke-width="0.9"><path d="M1116 922 q-6 10 0 18 q8 -2 8 -10 z"/><path d="M1220 924 q8 6 2 16 q-8 -4 -6 -12 z"/></g><path d="M1121 936 l4 -6 l3 4 m-8 4 l6 -2" stroke="#d9533f" stroke-width="1.6" fill="none"/><path d="M1210 893 q8 -8 12 4 l10 20 q-2 8 -12 8 q-10 -2 -12 -12 z" fill="#f0877a"/><ellipse cx="1136" cy="893.5" rx="5" ry="6" fill="#f2c4ae"/><path d="M1130 891 q6 -8 12 0 z" fill="#263238"/><path d="M1117 886 q2 -8 8 -6 l6 14 q14 -2 22 4 l4 24 l-26 0 l-4 -20 z" fill="#455a64"/><path d="M1128 898 q12 4 22 -2 l8 18 l-2 18 l-6 -10 z" fill="#e8644e"/><rect x="1127" y="920" width="24" height="22" fill="#263238"/><ellipse cx="1173" cy="896" rx="5.5" ry="6.5" fill="#7a4a3a"/><circle cx="1171" cy="887" r="3" fill="#263238"/><path d="M1161 942 l2 -30 q10 -6 22 0 l2 30 z" fill="#263238"/><path d="M1165 922 q10 6 22 -4" stroke="#7a4a3a" stroke-width="3" fill="none"/><path d="M1187 892 q6 -12 16 -4 q2 6 -1 9 l-13 1 z" fill="#263238"/><ellipse cx="1196" cy="896" rx="5" ry="6" fill="#f2c4ae"/><path d="M1182 942 l1 -32 q12 -8 26 0 l4 32 z" fill="#37474f"/><path d="M1190 906 h12 l-2 18 h-8 z" fill="#e8644e"/><line x1="1101" y1="942.5" x2="1235" y2="942.5" stroke="#e0e0e0" stroke-width="1"/></svg>
<div class="t" id="t16" style="left:427.00px;top:577.01px;font-size:18.90px;color:#1e1e1e;font-weight:400;font-family:'Liberation Sans',sans-serif;transform:scaleX(0.8039);-webkit-text-stroke:0.25px #fff;">S + P Meeting</div>
<div class="t" id="t17" style="left:622.30px;top:579.01px;font-size:18.90px;color:#1e1e1e;font-weight:400;font-family:'Liberation Sans',sans-serif;transform:scaleX(0.7003);-webkit-text-stroke:0.25px #fff;">Dentist</div>
<div class="t" id="t18" style="left:1005.00px;top:579.01px;font-size:18.90px;color:#1e1e1e;font-weight:400;font-family:'Liberation Sans',sans-serif;transform:scaleX(0.6530);-webkit-text-stroke:0.25px #fff;">Yoga</div>
<div class="t" id="t19" style="left:1129.00px;top:579.01px;font-size:18.90px;color:#1e1e1e;font-weight:400;font-family:'Liberation Sans',sans-serif;transform:scaleX(0.7646);-webkit-text-stroke:0.25px #fff;">3 Day booth</div>
<div class="t" id="t20" style="left:1120.00px;top:701.01px;font-size:18.90px;color:#1e1e1e;font-weight:400;font-family:'Liberation Sans',sans-serif;transform:scaleX(0.8072);-webkit-text-stroke:0.25px #fff;">S + P Meeting</div>
<div class="t" id="t21" style="left:285.26px;top:825.01px;font-size:18.90px;color:#1e1e1e;font-weight:400;font-family:'Liberation Sans',sans-serif;transform:scaleX(0.7409);-webkit-text-stroke:0.25px #fff;">My Birthday!!</div>
<div class="t" id="t22" style="left:268.02px;top:950.01px;font-size:18.90px;color:#1e1e1e;font-weight:400;font-family:'Liberation Sans',sans-serif;transform:scaleX(0.6835);-webkit-text-stroke:0.25px #fff;">Family Short Holiday</div>
<div class="t" id="t23" style="left:286.00px;top:1067.71px;font-size:18.90px;color:#1e1e1e;font-weight:400;font-family:'Liberation Sans',sans-serif;transform:scaleX(0.7578);-webkit-text-stroke:0.25px #fff;">Team Retreat</div>
<div class="t" id="t24" style="left:457.50px;top:1067.01px;font-size:18.90px;color:#1e1e1e;font-weight:400;font-family:'Liberation Sans',sans-serif;transform:scaleX(0.6951);-webkit-text-stroke:0.25px #fff;">Vegas</div>
<div class="t" id="t25" style="left:1120.06px;top:945.81px;font-size:18.90px;color:#1e1e1e;font-weight:400;font-family:'Liberation Sans',sans-serif;transform:scaleX(0.7398);-webkit-text-stroke:0.25px #fff;">March Closing*</div>
<div style="position:absolute;left:96.5px;top:455.5px;width:149.5px;height:1px;background:#d6d9df;"></div>
<div style="position:absolute;left:96.5px;top:454.2px;width:149.5px;height:3.6px;background:repeating-linear-gradient(90deg,#0c2254 0,#0c2254 10px,transparent 10px,transparent 20px);background-position:2.700000000000003px 0;"></div>
<div style="position:absolute;left:96.5px;top:597.5px;width:149.5px;height:1px;background:#d6d9df;"></div>
<div style="position:absolute;left:96.5px;top:596.2px;width:149.5px;height:3.6px;background:repeating-linear-gradient(90deg,#0c2254 0,#0c2254 10px,transparent 10px,transparent 20px);background-position:2.700000000000003px 0;"></div>
<div style="position:absolute;left:90.0px;top:462px;width:1px;height:130px;background:#d6d9df;"></div>
<div style="position:absolute;left:88.7px;top:462px;width:3.6px;height:130px;background:repeating-linear-gradient(180deg,#0c2254 0,#0c2254 9px,transparent 9px,transparent 20px);background-position:0 10.699999999999989px;"></div>
<div style="position:absolute;left:251.5px;top:462px;width:1px;height:130px;background:#d6d9df;"></div>
<div style="position:absolute;left:250.2px;top:462px;width:3.6px;height:130px;background:repeating-linear-gradient(180deg,#0c2254 0,#0c2254 9px,transparent 9px,transparent 20px);background-position:0 10.699999999999989px;"></div>
<div style="position:absolute;left:88.7px;top:454.2px;width:7px;height:3.6px;background:#0c2254;"></div>
<div style="position:absolute;left:88.7px;top:454.2px;width:3.6px;height:7px;background:#0c2254;"></div>
<div style="position:absolute;left:246.8px;top:454.2px;width:7px;height:3.6px;background:#0c2254;"></div>
<div style="position:absolute;left:250.2px;top:454.2px;width:3.6px;height:7px;background:#0c2254;"></div>
<div style="position:absolute;left:88.7px;top:596.2px;width:7px;height:3.6px;background:#0c2254;"></div>
<div style="position:absolute;left:88.7px;top:592.8px;width:3.6px;height:7px;background:#0c2254;"></div>
<div style="position:absolute;left:246.8px;top:596.2px;width:7px;height:3.6px;background:#0c2254;"></div>
<div style="position:absolute;left:250.2px;top:592.8px;width:3.6px;height:7px;background:#0c2254;"></div>
<div style="position:absolute;left:96.5px;top:607.5px;width:149.5px;height:1px;background:#d6d9df;"></div>
<div style="position:absolute;left:96.5px;top:606.2px;width:149.5px;height:3.6px;background:repeating-linear-gradient(90deg,#0c2254 0,#0c2254 10px,transparent 10px,transparent 20px);background-position:2.700000000000003px 0;"></div>
<div style="position:absolute;left:96.5px;top:1087.5px;width:149.5px;height:1px;background:#d6d9df;"></div>
<div style="position:absolute;left:96.5px;top:1086.2px;width:149.5px;height:3.6px;background:repeating-linear-gradient(90deg,#0c2254 0,#0c2254 10px,transparent 10px,transparent 20px);background-position:2.700000000000003px 0;"></div>
<div style="position:absolute;left:90.0px;top:614px;width:1px;height:468px;background:#d6d9df;"></div>
<div style="position:absolute;left:88.7px;top:614px;width:3.6px;height:468px;background:repeating-linear-gradient(180deg,#0c2254 0,#0c2254 9px,transparent 9px,transparent 20px);background-position:0 18.700000000000045px;"></div>
<div style="position:absolute;left:251.5px;top:614px;width:1px;height:468px;background:#d6d9df;"></div>
<div style="position:absolute;left:250.2px;top:614px;width:3.6px;height:468px;background:repeating-linear-gradient(180deg,#0c2254 0,#0c2254 9px,transparent 9px,transparent 20px);background-position:0 18.700000000000045px;"></div>
<div style="position:absolute;left:88.7px;top:606.2px;width:7px;height:3.6px;background:#0c2254;"></div>
<div style="position:absolute;left:88.7px;top:606.2px;width:3.6px;height:7px;background:#0c2254;"></div>
<div style="position:absolute;left:246.8px;top:606.2px;width:7px;height:3.6px;background:#0c2254;"></div>
<div style="position:absolute;left:250.2px;top:606.2px;width:3.6px;height:7px;background:#0c2254;"></div>
<div style="position:absolute;left:88.7px;top:1086.2px;width:7px;height:3.6px;background:#0c2254;"></div>
<div style="position:absolute;left:88.7px;top:1082.8px;width:3.6px;height:7px;background:#0c2254;"></div>
<div style="position:absolute;left:246.8px;top:1086.2px;width:7px;height:3.6px;background:#0c2254;"></div>
<div style="position:absolute;left:250.2px;top:1082.8px;width:3.6px;height:7px;background:#0c2254;"></div>
<div style="position:absolute;left:268px;top:455.5px;width:1134px;height:1px;background:#d6d9df;"></div>
<div style="position:absolute;left:268px;top:454.2px;width:1134px;height:3.6px;background:repeating-linear-gradient(90deg,#0c2254 0,#0c2254 10px,transparent 10px,transparent 20px);background-position:11.199999999999989px 0;"></div>
<div style="position:absolute;left:268px;top:1087.5px;width:1134px;height:1px;background:#d6d9df;"></div>
<div style="position:absolute;left:268px;top:1086.2px;width:1134px;height:3.6px;background:repeating-linear-gradient(90deg,#0c2254 0,#0c2254 10px,transparent 10px,transparent 20px);background-position:11.199999999999989px 0;"></div>
<div style="position:absolute;left:261.5px;top:462px;width:1px;height:620px;background:#d6d9df;"></div>
<div style="position:absolute;left:260.2px;top:462px;width:3.6px;height:620px;background:repeating-linear-gradient(180deg,#0c2254 0,#0c2254 9px,transparent 9px,transparent 20px);background-position:0 10.699999999999989px;"></div>
<div style="position:absolute;left:1407.5px;top:462px;width:1px;height:620px;background:#d6d9df;"></div>
<div style="position:absolute;left:1406.2px;top:462px;width:3.6px;height:620px;background:repeating-linear-gradient(180deg,#0c2254 0,#0c2254 9px,transparent 9px,transparent 20px);background-position:0 10.699999999999989px;"></div>
<div style="position:absolute;left:260.2px;top:454.2px;width:7px;height:3.6px;background:#0c2254;"></div>
<div style="position:absolute;left:260.2px;top:454.2px;width:3.6px;height:7px;background:#0c2254;"></div>
<div style="position:absolute;left:1402.8px;top:454.2px;width:7px;height:3.6px;background:#0c2254;"></div>
<div style="position:absolute;left:1406.2px;top:454.2px;width:3.6px;height:7px;background:#0c2254;"></div>
<div style="position:absolute;left:260.2px;top:1086.2px;width:7px;height:3.6px;background:#0c2254;"></div>
<div style="position:absolute;left:260.2px;top:1082.8px;width:3.6px;height:7px;background:#0c2254;"></div>
<div style="position:absolute;left:1402.8px;top:1086.2px;width:7px;height:3.6px;background:#0c2254;"></div>
<div style="position:absolute;left:1406.2px;top:1082.8px;width:3.6px;height:7px;background:#0c2254;"></div>
<div style="position:absolute;left:96.5px;top:1096.0px;width:290.5px;height:1px;background:#d6d9df;"></div>
<div style="position:absolute;left:96.5px;top:1094.7px;width:290.5px;height:3.6px;background:repeating-linear-gradient(90deg,#0c2254 0,#0c2254 10px,transparent 10px,transparent 20px);background-position:2.700000000000003px 0;"></div>
<div style="position:absolute;left:96.5px;top:1338.5px;width:290.5px;height:1px;background:#d6d9df;"></div>
<div style="position:absolute;left:96.5px;top:1337.2px;width:290.5px;height:3.6px;background:repeating-linear-gradient(90deg,#0c2254 0,#0c2254 10px,transparent 10px,transparent 20px);background-position:2.700000000000003px 0;"></div>
<div style="position:absolute;left:90.0px;top:1102.5px;width:1px;height:230.5px;background:#d6d9df;"></div>
<div style="position:absolute;left:88.7px;top:1102.5px;width:3.6px;height:230.5px;background:repeating-linear-gradient(180deg,#0c2254 0,#0c2254 9px,transparent 9px,transparent 20px);background-position:0 10.200000000000045px;"></div>
<div style="position:absolute;left:392.5px;top:1102.5px;width:1px;height:230.5px;background:#d6d9df;"></div>
<div style="position:absolute;left:391.2px;top:1102.5px;width:3.6px;height:230.5px;background:repeating-linear-gradient(180deg,#0c2254 0,#0c2254 9px,transparent 9px,transparent 20px);background-position:0 10.200000000000045px;"></div>
<div style="position:absolute;left:88.7px;top:1094.7px;width:7px;height:3.6px;background:#0c2254;"></div>
<div style="position:absolute;left:88.7px;top:1094.7px;width:3.6px;height:7px;background:#0c2254;"></div>
<div style="position:absolute;left:387.8px;top:1094.7px;width:7px;height:3.6px;background:#0c2254;"></div>
<div style="position:absolute;left:391.2px;top:1094.7px;width:3.6px;height:7px;background:#0c2254;"></div>
<div style="position:absolute;left:88.7px;top:1337.2px;width:7px;height:3.6px;background:#0c2254;"></div>
<div style="position:absolute;left:88.7px;top:1333.8px;width:3.6px;height:7px;background:#0c2254;"></div>
<div style="position:absolute;left:387.8px;top:1337.2px;width:7px;height:3.6px;background:#0c2254;"></div>
<div style="position:absolute;left:391.2px;top:1333.8px;width:3.6px;height:7px;background:#0c2254;"></div>
<div style="position:absolute;left:408px;top:1096.0px;width:289px;height:1px;background:#d6d9df;"></div>
<div style="position:absolute;left:408px;top:1094.7px;width:289px;height:3.6px;background:repeating-linear-gradient(90deg,#0c2254 0,#0c2254 10px,transparent 10px,transparent 20px);background-position:11.199999999999989px 0;"></div>
<div style="position:absolute;left:408px;top:1338.5px;width:289px;height:1px;background:#d6d9df;"></div>
<div style="position:absolute;left:408px;top:1337.2px;width:289px;height:3.6px;background:repeating-linear-gradient(90deg,#0c2254 0,#0c2254 10px,transparent 10px,transparent 20px);background-position:11.199999999999989px 0;"></div>
<div style="position:absolute;left:401.5px;top:1102.5px;width:1px;height:230.5px;background:#d6d9df;"></div>
<div style="position:absolute;left:400.2px;top:1102.5px;width:3.6px;height:230.5px;background:repeating-linear-gradient(180deg,#0c2254 0,#0c2254 9px,transparent 9px,transparent 20px);background-position:0 10.200000000000045px;"></div>
<div style="position:absolute;left:702.5px;top:1102.5px;width:1px;height:230.5px;background:#d6d9df;"></div>
<div style="position:absolute;left:701.2px;top:1102.5px;width:3.6px;height:230.5px;background:repeating-linear-gradient(180deg,#0c2254 0,#0c2254 9px,transparent 9px,transparent 20px);background-position:0 10.200000000000045px;"></div>
<div style="position:absolute;left:400.2px;top:1094.7px;width:7px;height:3.6px;background:#0c2254;"></div>
<div style="position:absolute;left:400.2px;top:1094.7px;width:3.6px;height:7px;background:#0c2254;"></div>
<div style="position:absolute;left:697.8px;top:1094.7px;width:7px;height:3.6px;background:#0c2254;"></div>
<div style="position:absolute;left:701.2px;top:1094.7px;width:3.6px;height:7px;background:#0c2254;"></div>
<div style="position:absolute;left:400.2px;top:1337.2px;width:7px;height:3.6px;background:#0c2254;"></div>
<div style="position:absolute;left:400.2px;top:1333.8px;width:3.6px;height:7px;background:#0c2254;"></div>
<div style="position:absolute;left:697.8px;top:1337.2px;width:7px;height:3.6px;background:#0c2254;"></div>
<div style="position:absolute;left:701.2px;top:1333.8px;width:3.6px;height:7px;background:#0c2254;"></div>
<div style="position:absolute;left:771px;top:1096.0px;width:631px;height:1px;background:#d6d9df;"></div>
<div style="position:absolute;left:771px;top:1094.7px;width:631px;height:3.6px;background:repeating-linear-gradient(90deg,#0c2254 0,#0c2254 10px,transparent 10px,transparent 20px);background-position:8.200000000000045px 0;"></div>
<div style="position:absolute;left:771px;top:1338.5px;width:631px;height:1px;background:#d6d9df;"></div>
<div style="position:absolute;left:771px;top:1337.2px;width:631px;height:3.6px;background:repeating-linear-gradient(90deg,#0c2254 0,#0c2254 10px,transparent 10px,transparent 20px);background-position:8.200000000000045px 0;"></div>
<div style="position:absolute;left:764.5px;top:1102.5px;width:1px;height:230.5px;background:#d6d9df;"></div>
<div style="position:absolute;left:763.2px;top:1102.5px;width:3.6px;height:230.5px;background:repeating-linear-gradient(180deg,#0c2254 0,#0c2254 9px,transparent 9px,transparent 20px);background-position:0 10.200000000000045px;"></div>
<div style="position:absolute;left:1407.5px;top:1102.5px;width:1px;height:230.5px;background:#d6d9df;"></div>
<div style="position:absolute;left:1406.2px;top:1102.5px;width:3.6px;height:230.5px;background:repeating-linear-gradient(180deg,#0c2254 0,#0c2254 9px,transparent 9px,transparent 20px);background-position:0 10.200000000000045px;"></div>
<div style="position:absolute;left:763.2px;top:1094.7px;width:7px;height:3.6px;background:#0c2254;"></div>
<div style="position:absolute;left:763.2px;top:1094.7px;width:3.6px;height:7px;background:#0c2254;"></div>
<div style="position:absolute;left:1402.8px;top:1094.7px;width:7px;height:3.6px;background:#0c2254;"></div>
<div style="position:absolute;left:1406.2px;top:1094.7px;width:3.6px;height:7px;background:#0c2254;"></div>
<div style="position:absolute;left:763.2px;top:1337.2px;width:7px;height:3.6px;background:#0c2254;"></div>
<div style="position:absolute;left:763.2px;top:1333.8px;width:3.6px;height:7px;background:#0c2254;"></div>
<div style="position:absolute;left:1402.8px;top:1337.2px;width:7px;height:3.6px;background:#0c2254;"></div>
<div style="position:absolute;left:1406.2px;top:1333.8px;width:3.6px;height:7px;background:#0c2254;"></div>
<div class="t" id="t26" style="left:94.95px;top:437.86px;font-size:13.52px;color:#1a1a1a;font-weight:400;font-family:'Liberation Sans',sans-serif;transform:scaleX(1.0476);">MONTH:</div>
<div class="t" id="t27" style="left:164.20px;top:431.92px;font-size:18.17px;color:#1e1e1e;font-weight:400;font-family:'Liberation Sans',sans-serif;transform:scaleX(0.7963);-webkit-text-stroke:0.25px #fff;">March</div>
<div class="t" id="t28" style="left:269.00px;top:436.95px;font-size:14.83px;color:#1a1a1a;font-weight:400;font-family:'Liberation Sans',sans-serif;transform:scaleX(0.8760);">YEAR:</div>
<div class="t" id="t29" style="left:320.50px;top:432.32px;font-size:18.17px;color:#1e1e1e;font-weight:400;font-family:'Liberation Sans',sans-serif;transform:scaleX(0.5708);-webkit-text-stroke:0.25px #fff;">2021</div>
<div style="position:absolute;left:152px;top:451px;width:98px;height:0;border-top:1px dotted #cfcfcf;"></div>
<div style="position:absolute;left:309px;top:451px;width:110px;height:0;border-top:1px dotted #cfcfcf;"></div>
<div class="t" id="t30" style="left:1092.00px;top:435.40px;font-size:14.53px;color:#1e1e1e;font-weight:400;font-family:'Liberation Sans',sans-serif;transform:scaleX(0.8992);">&#8220;Learn to let go. That is the key to happiness.&#8221; Buddha</div>
<div class="t" id="t31" style="left:301.30px;top:459.08px;font-size:15.26px;color:#4a4a4a;font-weight:400;font-family:'Liberation Sans',sans-serif;transform:scaleX(0.8145);">SUNDAY</div>
<div class="t" id="t32" style="left:445.32px;top:459.08px;font-size:15.26px;color:#4a4a4a;font-weight:400;font-family:'Liberation Sans',sans-serif;transform:scaleX(0.8788);">MONDAY</div>
<div class="t" id="t33" style="left:620.40px;top:459.08px;font-size:15.26px;color:#4a4a4a;font-weight:400;font-family:'Liberation Sans',sans-serif;transform:scaleX(0.7508);">TUESDAY</div>
<div class="t" id="t34" style="left:815.00px;top:459.08px;font-size:15.26px;color:#4a4a4a;font-weight:400;font-family:'Liberation Sans',sans-serif;transform:scaleX(0.7991);">WEDNESDAY</div>
<div class="t" id="t35" style="left:987.50px;top:459.08px;font-size:15.26px;color:#4a4a4a;font-weight:400;font-family:'Liberation Sans',sans-serif;transform:scaleX(0.7484);">THURSDAY</div>
<div class="t" id="t36" style="left:1146.57px;top:459.08px;font-size:15.26px;color:#4a4a4a;font-weight:400;font-family:'Liberation Sans',sans-serif;transform:scaleX(0.7348);">FRIDAY</div>
<div class="t" id="t37" style="left:1293.30px;top:459.08px;font-size:15.26px;color:#4a4a4a;font-weight:400;font-family:'Liberation Sans',sans-serif;transform:scaleX(0.7717);">SATURDAY</div>
<div class="t" id="t38" style="left:424.32px;top:493.21px;font-size:18.90px;color:#222;font-weight:400;font-family:'Liberation Sans',sans-serif;transform:scaleX(0.7778);-webkit-text-stroke:0.25px #f4f4f4;">1</div>
<div class="t" id="t39" style="left:572.90px;top:493.21px;font-size:18.90px;color:#222;font-weight:400;font-family:'Liberation Sans',sans-serif;transform:scaleX(0.7000);-webkit-text-stroke:0.25px #f4f4f4;">2</div>
<div class="t" id="t40" style="left:801.00px;top:493.21px;font-size:18.90px;color:#222;font-weight:400;font-family:'Liberation Sans',sans-serif;transform:scaleX(0.7000);-webkit-text-stroke:0.25px #f4f4f4;">3</div>
<div class="t" id="t41" style="left:968.00px;top:493.21px;font-size:18.90px;color:#222;font-weight:400;font-family:'Liberation Sans',sans-serif;transform:scaleX(0.7000);-webkit-text-stroke:0.25px #f4f4f4;">4</div>
<div class="t" id="t42" style="left:1116.50px;top:493.21px;font-size:18.90px;color:#222;font-weight:400;font-family:'Liberation Sans',sans-serif;transform:scaleX(0.7000);-webkit-text-stroke:0.25px #f4f4f4;">5</div>
<div class="t" id="t43" style="left:1266.50px;top:493.21px;font-size:18.90px;color:#222;font-weight:400;font-family:'Liberation Sans',sans-serif;transform:scaleX(0.7000);-webkit-text-stroke:0.25px #f4f4f4;">6</div>
<div class="t" id="t44" style="left:277.50px;top:615.71px;font-size:18.90px;color:#222;font-weight:400;font-family:'Liberation Sans',sans-serif;transform:scaleX(0.7000);-webkit-text-stroke:0.25px #f4f4f4;">7</div>
<div class="t" id="t45" style="left:425.10px;top:615.71px;font-size:18.90px;color:#222;font-weight:400;font-family:'Liberation Sans',sans-serif;transform:scaleX(0.7000);-webkit-text-stroke:0.25px #f4f4f4;">8</div>
<div class="t" id="t46" style="left:572.90px;top:615.71px;font-size:18.90px;color:#222;font-weight:400;font-family:'Liberation Sans',sans-serif;transform:scaleX(0.7000);-webkit-text-stroke:0.25px #f4f4f4;">9</div>
<div class="t" id="t47" style="left:796.23px;top:615.71px;font-size:18.90px;color:#222;font-weight:400;font-family:'Liberation Sans',sans-serif;transform:scaleX(0.7690);-webkit-text-stroke:0.25px #f4f4f4;">10</div>
<div class="t" id="t48" style="left:963.17px;top:615.71px;font-size:18.90px;color:#222;font-weight:400;font-family:'Liberation Sans',sans-serif;transform:scaleX(0.8286);-webkit-text-stroke:0.25px #f4f4f4;">11</div>
<div class="t" id="t49" style="left:1111.73px;top:615.71px;font-size:18.90px;color:#222;font-weight:400;font-family:'Liberation Sans',sans-serif;transform:scaleX(0.7690);-webkit-text-stroke:0.25px #f4f4f4;">12</div>
<div class="t" id="t50" style="left:1261.73px;top:615.71px;font-size:18.90px;color:#222;font-weight:400;font-family:'Liberation Sans',sans-serif;transform:scaleX(0.7690);-webkit-text-stroke:0.25px #f4f4f4;">13</div>
<div class="t" id="t51" style="left:272.73px;top:738.21px;font-size:18.90px;color:#222;font-weight:400;font-family:'Liberation Sans',sans-serif;transform:scaleX(0.7690);-webkit-text-stroke:0.25px #f4f4f4;">14</div>
<div class="t" id="t52" style="left:420.33px;top:738.21px;font-size:18.90px;color:#222;font-weight:400;font-family:'Liberation Sans',sans-serif;transform:scaleX(0.7690);-webkit-text-stroke:0.25px #f4f4f4;">15</div>
<div class="t" id="t53" style="left:568.13px;top:738.21px;font-size:18.90px;color:#222;font-weight:400;font-family:'Liberation Sans',sans-serif;transform:scaleX(0.7690);-webkit-text-stroke:0.25px #f4f4f4;">16</div>
<div class="t" id="t54" style="left:796.23px;top:738.21px;font-size:18.90px;color:#222;font-weight:400;font-family:'Liberation Sans',sans-serif;transform:scaleX(0.7690);-webkit-text-stroke:0.25px #f4f4f4;">17</div>
<div class="t" id="t55" style="left:963.23px;top:738.21px;font-size:18.90px;color:#222;font-weight:400;font-family:'Liberation Sans',sans-serif;transform:scaleX(0.7690);-webkit-text-stroke:0.25px #f4f4f4;">18</div>
<div class="t" id="t56" style="left:1111.73px;top:738.21px;font-size:18.90px;color:#222;font-weight:400;font-family:'Liberation Sans',sans-serif;transform:scaleX(0.7690);-webkit-text-stroke:0.25px #f4f4f4;">19</div>
<div class="t" id="t57" style="left:1262.50px;top:738.21px;font-size:18.90px;color:#222;font-weight:400;font-family:'Liberation Sans',sans-serif;transform:scaleX(0.7315);-webkit-text-stroke:0.25px #f4f4f4;">20</div>
<div class="t" id="t58" style="left:273.50px;top:860.71px;font-size:18.90px;color:#222;font-weight:400;font-family:'Liberation Sans',sans-serif;transform:scaleX(0.7315);-webkit-text-stroke:0.25px #f4f4f4;">21</div>
<div class="t" id="t59" style="left:421.10px;top:860.71px;font-size:18.90px;color:#222;font-weight:400;font-family:'Liberation Sans',sans-serif;transform:scaleX(0.7315);-webkit-text-stroke:0.25px #f4f4f4;">22</div>
<div class="t" id="t60" style="left:568.90px;top:860.71px;font-size:18.90px;color:#222;font-weight:400;font-family:'Liberation Sans',sans-serif;transform:scaleX(0.7315);-webkit-text-stroke:0.25px #f4f4f4;">23</div>
<div class="t" id="t61" style="left:797.00px;top:860.71px;font-size:18.90px;color:#222;font-weight:400;font-family:'Liberation Sans',sans-serif;transform:scaleX(0.7315);-webkit-text-stroke:0.25px #f4f4f4;">24</div>
<div class="t" id="t62" style="left:964.00px;top:860.71px;font-size:18.90px;color:#222;font-weight:400;font-family:'Liberation Sans',sans-serif;transform:scaleX(0.7315);-webkit-text-stroke:0.25px #f4f4f4;">25</div>
<div class="t" id="t63" style="left:1112.50px;top:860.71px;font-size:18.90px;color:#222;font-weight:400;font-family:'Liberation Sans',sans-serif;transform:scaleX(0.7315);-webkit-text-stroke:0.25px #f4f4f4;">26</div>
<div class="t" id="t64" style="left:1262.50px;top:860.71px;font-size:18.90px;color:#222;font-weight:400;font-family:'Liberation Sans',sans-serif;transform:scaleX(0.7315);-webkit-text-stroke:0.25px #f4f4f4;">27</div>
<div class="t" id="t65" style="left:273.50px;top:983.21px;font-size:18.90px;color:#222;font-weight:400;font-family:'Liberation Sans',sans-serif;transform:scaleX(0.7315);-webkit-text-stroke:0.25px #f4f4f4;">28</div>
<div class="t" id="t66" style="left:421.10px;top:983.21px;font-size:18.90px;color:#222;font-weight:400;font-family:'Liberation Sans',sans-serif;transform:scaleX(0.7315);-webkit-text-stroke:0.25px #f4f4f4;">29</div>
<div class="t" id="t67" style="left:568.90px;top:983.21px;font-size:18.90px;color:#222;font-weight:400;font-family:'Liberation Sans',sans-serif;transform:scaleX(0.7315);-webkit-text-stroke:0.25px #f4f4f4;">30</div>
<div class="t" id="t68" style="left:797.00px;top:983.21px;font-size:18.90px;color:#222;font-weight:400;font-family:'Liberation Sans',sans-serif;transform:scaleX(0.7315);-webkit-text-stroke:0.25px #f4f4f4;">31</div>
<div class="t" id="t69" style="left:108.70px;top:459.00px;font-size:14.53px;color:#1a1a1a;font-weight:400;font-family:'Liberation Sans',sans-serif;transform:scaleX(0.8853);">THIS MONTH&#8217;S GOAL</div>
<div style="position:absolute;left:96px;top:477px;width:152px;height:1px;background:#d4d4d4;"></div>
<div style="position:absolute;left:106.7px;top:491.3px;width:131.3px;height:20px;background:#e17aa0;"></div>
<div style="position:absolute;left:110px;top:511.3px;width:131.3px;height:20px;background:#e17aa0;"></div>
<div class="t" id="t70" style="left:116.24px;top:492.24px;font-size:17.44px;color:#1e1e1e;font-weight:400;font-family:'Liberation Sans',sans-serif;transform:scaleX(0.7610);-webkit-text-stroke:0.25px #e17aa0;">Hit $80,000 in sales</div>
<div class="t" id="t71" style="left:117.00px;top:512.24px;font-size:17.44px;color:#1e1e1e;font-weight:400;font-family:'Liberation Sans',sans-serif;transform:scaleX(0.7946);-webkit-text-stroke:0.25px #e17aa0;">and 50 new clients</div>
<div style="position:absolute;left:96px;top:544.5px;width:154px;height:52px;border:1px dotted #d4d4d4;border-bottom:none;"></div>
<div style="position:absolute;left:119.3px;top:552px;width:90px;height:19.3px;background:#f0d68a;"></div>
<div style="position:absolute;left:120px;top:571.3px;width:130.7px;height:21.4px;background:#f0d68a;"></div>
<div class="t" id="t72" style="left:122.00px;top:552.85px;font-size:16.72px;color:#1e1e1e;font-weight:400;font-family:'Liberation Sans',sans-serif;transform:scaleX(0.7321);-webkit-text-stroke:0.25px #f0d68a;">3 days/2 nights</div>
<div class="t" id="t73" style="left:121.31px;top:572.85px;font-size:16.72px;color:#1e1e1e;font-weight:400;font-family:'Liberation Sans',sans-serif;transform:scaleX(0.6907);-webkit-text-stroke:0.25px #f0d68a;">Bahamas cruise vacation</div>
<svg style="position:absolute;left:102px;top:561px;" width="18" height="22" viewBox="0 0 18 22"><rect x="2" y="9" width="14" height="12" fill="#111"/><rect x="1" y="6" width="16" height="4" fill="#111"/><rect x="8" y="6" width="2" height="15" fill="#fff"/><rect x="1" y="12" width="16" height="1.2" fill="#fff"/><path d="M9 6 C6 0 2 2 4 5 M9 6 C12 0 16 2 14 5" stroke="#111" stroke-width="1.5" fill="none"/></svg>
<div style="position:absolute;left:73.8px;top:507.79999999999995px;width:35px;height:35px;border-radius:50%;background:#fff;"></div>
<div style="position:absolute;left:75.3px;top:509.29999999999995px;width:32px;height:32px;border-radius:50%;background:#123f7d;"></div>
<div class="t" id="t74" style="left:84.35px;top:511.74px;font-size:26.98px;color:#fff;font-weight:700;font-family:'Liberation Sans',sans-serif;transform:scaleX(0.8686);">1</div>
<div class="t" id="t75" style="left:118.70px;top:608.93px;font-size:13.08px;color:#1a1a1a;font-weight:400;font-family:'Liberation Sans',sans-serif;transform:scaleX(0.8429);">TASKS | INTENTIONS</div>
<div style="position:absolute;left:94px;top:627px;width:158px;height:390px;background-image:radial-gradient(circle,#8a8a8a 0,#8a8a8a 1px,transparent 1.5px);background-size:12.7px 12.7px;background-position:-4px 0;"></div>
<div class="t" id="t76" style="left:95.30px;top:641.85px;font-size:16.72px;color:#1e1e1e;font-weight:400;font-family:'Liberation Sans',sans-serif;transform:scaleX(0.6967);-webkit-text-stroke:0.25px #fff;">1. Walk and play with my dog.</div>
<div class="t" id="t77" style="left:96.00px;top:660.55px;font-size:16.72px;color:#1e1e1e;font-weight:400;font-family:'Liberation Sans',sans-serif;transform:scaleX(0.7302);-webkit-text-stroke:0.25px #fff;">2. Swim in the sea and hot</div>
<div class="t" id="t78" style="left:95.30px;top:679.25px;font-size:16.72px;color:#1e1e1e;font-weight:400;font-family:'Liberation Sans',sans-serif;transform:scaleX(0.7031);-webkit-text-stroke:0.25px #fff;">pool</div>
<div class="t" id="t79" style="left:96.00px;top:697.95px;font-size:16.72px;color:#1e1e1e;font-weight:400;font-family:'Liberation Sans',sans-serif;transform:scaleX(0.6599);-webkit-text-stroke:0.25px #fff;">3. Yoga and meditation.</div>
<div class="t" id="t80" style="left:96.00px;top:716.65px;font-size:16.72px;color:#1e1e1e;font-weight:400;font-family:'Liberation Sans',sans-serif;transform:scaleX(0.7209);-webkit-text-stroke:0.25px #fff;">4. Send love and light to</div>
<div class="t" id="t81" style="left:95.43px;top:735.35px;font-size:16.72px;color:#1e1e1e;font-weight:400;font-family:'Liberation Sans',sans-serif;transform:scaleX(0.5731);-webkit-text-stroke:0.25px #fff;">people I love.</div>
<div class="t" id="t82" style="left:96.00px;top:754.05px;font-size:16.72px;color:#1e1e1e;font-weight:400;font-family:'Liberation Sans',sans-serif;transform:scaleX(0.7055);-webkit-text-stroke:0.25px #fff;">5. Write my gratitude list.</div>
<div class="t" id="t83" style="left:96.00px;top:772.75px;font-size:16.72px;color:#1e1e1e;font-weight:400;font-family:'Liberation Sans',sans-serif;transform:scaleX(0.6923);-webkit-text-stroke:0.25px #fff;">6. Sing and dance.</div>
<div class="t" id="t84" style="left:95.40px;top:848.35px;font-size:16.72px;color:#1e1e1e;font-weight:400;font-family:'Liberation Sans',sans-serif;transform:scaleX(0.5996);-webkit-text-stroke:0.25px #fff;">1. Communication skills.</div>
<div class="t" id="t85" style="left:96.00px;top:866.75px;font-size:16.72px;color:#1e1e1e;font-weight:400;font-family:'Liberation Sans',sans-serif;transform:scaleX(0.6246);-webkit-text-stroke:0.25px #fff;">2. Increase productivity.</div>
<div class="t" id="t86" style="left:96.00px;top:885.15px;font-size:16.72px;color:#1e1e1e;font-weight:400;font-family:'Liberation Sans',sans-serif;transform:scaleX(0.6069);-webkit-text-stroke:0.25px #fff;">3. Healthy home cooking.</div>
<div class="t" id="t87" style="left:96.00px;top:903.55px;font-size:16.72px;color:#1e1e1e;font-weight:400;font-family:'Liberation Sans',sans-serif;transform:scaleX(0.6751);-webkit-text-stroke:0.25px #fff;">4. Intermittent fasting.</div>
<div class="t" id="t88" style="left:96.00px;top:921.95px;font-size:16.72px;color:#1e1e1e;font-weight:400;font-family:'Liberation Sans',sans-serif;transform:scaleX(0.6729);-webkit-text-stroke:0.25px #fff;">5. Dr. Mercola Article.</div>
<div style="position:absolute;left:72.2px;top:801.5px;width:37px;height:37px;border-radius:50%;background:#fff;"></div>
<div style="position:absolute;left:73.7px;top:803px;width:34px;height:34px;border-radius:50%;background:#123f7d;"></div>
<div class="t" id="t89" style="left:83.32px;top:805.60px;font-size:28.66px;color:#fff;font-weight:700;font-family:'Liberation Sans',sans-serif;transform:scaleX(0.9229);">2</div>
<div style="position:absolute;left:94px;top:1016.8px;width:155.8px;height:68px;background:#fff;border:1px solid #dadada;border-bottom:none;"></div>
<div class="t" id="t90" style="left:127.53px;top:1020.80px;font-size:12.65px;color:#1a1a1a;font-weight:400;font-family:'Liberation Sans',sans-serif;transform:scaleX(0.9652);">MONEY SAVED</div>
<div class="t" id="t91" style="left:98.00px;top:1038.85px;font-size:7.27px;color:#555;font-weight:400;font-family:'Liberation Sans',sans-serif;transform:scaleX(0.9926);">GOAL</div>
<div class="t" id="t92" style="left:129.00px;top:1044.24px;font-size:17.44px;color:#1e1e1e;font-weight:400;font-family:'Liberation Sans',sans-serif;transform:scaleX(0.5944);-webkit-text-stroke:0.25px #fff;">$1500</div>
<div class="t" id="t93" style="left:98.00px;top:1065.85px;font-size:7.27px;color:#555;font-weight:400;font-family:'Liberation Sans',sans-serif;transform:scaleX(0.9486);">ACHIEVED</div>
<div class="t" id="t94" style="left:129.00px;top:1071.24px;font-size:17.44px;color:#1e1e1e;font-weight:400;font-family:'Liberation Sans',sans-serif;transform:scaleX(0.5944);-webkit-text-stroke:0.25px #fff;">$1500</div>
<div class="t" id="t95" style="left:162.65px;top:1101.43px;font-size:13.08px;color:#1a1a1a;font-weight:400;font-family:'Liberation Sans',sans-serif;transform:scaleX(0.8535);">DESIRED GOALS THIS MONTH</div>
<div style="position:absolute;left:94.7px;top:1119.5px;width:296px;height:1px;background:#cfcfcf;"></div>
<div style="position:absolute;left:94.7px;top:1183.0px;width:296px;height:1px;background:#cfcfcf;"></div>
<div style="position:absolute;left:94.7px;top:1247.5px;width:296px;height:1px;background:#cfcfcf;"></div>
<div style="position:absolute;left:94.7px;top:1311.0px;width:296px;height:1px;background:#cfcfcf;"></div>
<div style="position:absolute;left:94.7px;top:1120px;width:1px;height:191.5px;background:#dadada;"></div>
<div style="position:absolute;left:390.7px;top:1120px;width:1px;height:191.5px;background:#dadada;"></div>
<div class="t" id="t96" style="left:104.01px;top:1122.24px;font-size:17.44px;color:#1e1e1e;font-weight:400;font-family:'Liberation Sans',sans-serif;transform:scaleX(0.7926);-webkit-text-stroke:0.25px #fff;">Lose 3 kgs and 2% body fat</div>
<div class="t" id="t97" style="left:104.80px;top:1165.24px;font-size:17.44px;color:#1e1e1e;font-weight:400;font-family:'Liberation Sans',sans-serif;transform:scaleX(0.7949);-webkit-text-stroke:0.25px #fff;">So I can look great in my bikini for the beach</div>
<div class="t" id="t98" style="left:104.80px;top:1186.54px;font-size:17.44px;color:#1e1e1e;font-weight:400;font-family:'Liberation Sans',sans-serif;transform:scaleX(0.7139);-webkit-text-stroke:0.25px #fff;">$80,000 sales this month</div>
<div class="t" id="t99" style="left:104.80px;top:1227.94px;font-size:17.44px;color:#1e1e1e;font-weight:400;font-family:'Liberation Sans',sans-serif;transform:scaleX(0.7578);-webkit-text-stroke:0.25px #fff;">Quality for a free vacation in Hawaii</div>
<div class="t" id="t100" style="left:104.80px;top:1249.24px;font-size:17.44px;color:#1e1e1e;font-weight:400;font-family:'Liberation Sans',sans-serif;transform:scaleX(0.7393);-webkit-text-stroke:0.25px #fff;">50 new clients</div>
<div class="t" id="t101" style="left:104.07px;top:1291.94px;font-size:17.44px;color:#1e1e1e;font-weight:400;font-family:'Liberation Sans',sans-serif;transform:scaleX(0.7260);-webkit-text-stroke:0.25px #fff;">Help more people</div>
<div class="t" id="t102" style="left:102.00px;top:1148.62px;font-size:8.72px;color:#333;font-weight:400;font-family:'Liberation Sans',sans-serif;transform:scaleX(0.7103);">WHY?</div>
<div class="t" id="t103" style="left:102.00px;top:1212.62px;font-size:8.72px;color:#333;font-weight:400;font-family:'Liberation Sans',sans-serif;transform:scaleX(0.7103);">WHY?</div>
<div class="t" id="t104" style="left:102.00px;top:1276.62px;font-size:8.72px;color:#333;font-weight:400;font-family:'Liberation Sans',sans-serif;transform:scaleX(0.7103);">WHY?</div>
<div class="t" id="t105" style="left:94.00px;top:1324.00px;font-size:9.45px;color:#2a2a2a;font-weight:400;font-family:'Liberation Sans',sans-serif;transform:scaleX(0.7761);">MONTHLY GOALS SET</div>
<svg style="position:absolute;left:174px;top:1319px;" width="22" height="16" viewBox="0 0 22 16"><rect x="3" y="5" width="11" height="10" fill="none" stroke="#bbb" stroke-width="1"/><path d="M2 9 L7 14 L16 2" stroke="#111" stroke-width="1.6" fill="none"/><path d="M19 7 L21.5 10 L19 13" stroke="#888" stroke-width="0.9" fill="none"/></svg>
<div class="t" id="t106" style="left:261.00px;top:1324.00px;font-size:9.45px;color:#2a2a2a;font-weight:400;font-family:'Liberation Sans',sans-serif;transform:scaleX(0.7700);">TASKS AND INTENTIONS SET</div>
<svg style="position:absolute;left:366px;top:1319px;" width="22" height="16" viewBox="0 0 22 16"><rect x="3" y="5" width="11" height="10" fill="none" stroke="#bbb" stroke-width="1"/><path d="M2 9 L7 14 L16 2" stroke="#111" stroke-width="1.6" fill="none"/><path d="M19 7 L21.5 10 L19 13" stroke="#888" stroke-width="0.9" fill="none"/></svg>
<div style="position:absolute;left:72.2px;top:1201.5px;width:37px;height:37px;border-radius:50%;background:#fff;"></div>
<div style="position:absolute;left:73.7px;top:1203px;width:34px;height:34px;border-radius:50%;background:#123f7d;"></div>
<div class="t" id="t107" style="left:84.24px;top:1205.60px;font-size:28.66px;color:#fff;font-weight:700;font-family:'Liberation Sans',sans-serif;transform:scaleX(0.8075);">5</div>
<div class="t" id="t108" style="left:483.00px;top:1101.43px;font-size:13.08px;color:#1a1a1a;font-weight:400;font-family:'Liberation Sans',sans-serif;transform:scaleX(0.8539);">ACTION STEPS TO TAKE</div>
<div style="position:absolute;left:400px;top:1119.0px;width:299.4px;height:1px;background:#cfcfcf;"></div>
<div style="position:absolute;left:400px;top:1140.5px;width:299.4px;height:1px;background:#cfcfcf;"></div>
<div style="position:absolute;left:400px;top:1162.2px;width:299.4px;height:1px;background:#cfcfcf;"></div>
<div style="position:absolute;left:400px;top:1183.5px;width:299.4px;height:1px;background:#cfcfcf;"></div>
<div style="position:absolute;left:400px;top:1205.1px;width:299.4px;height:1px;background:#cfcfcf;"></div>
<div style="position:absolute;left:400px;top:1226.5px;width:299.4px;height:1px;background:#cfcfcf;"></div>
<div style="position:absolute;left:400px;top:1247.2px;width:299.4px;height:1px;background:#cfcfcf;"></div>
<div style="position:absolute;left:400px;top:1268.8px;width:299.4px;height:1px;background:#cfcfcf;"></div>
<div style="position:absolute;left:400px;top:1290.1px;width:299.4px;height:1px;background:#cfcfcf;"></div>
<div style="position:absolute;left:400px;top:1310.9px;width:299.4px;height:1px;background:#cfcfcf;"></div>
<div style="position:absolute;left:400px;top:1119.5px;width:1px;height:192px;background:#dadada;"></div>
<div style="position:absolute;left:425px;top:1119.5px;width:1px;height:192px;background:#dadada;"></div>
<div style="position:absolute;left:699px;top:1119.5px;width:1px;height:192px;background:#dadada;"></div>
<div class="t" id="t109" style="left:409.50px;top:1124.77px;font-size:10.90px;color:#333;font-weight:400;font-family:'Liberation Sans',sans-serif;transform:scaleX(0.9167);">1</div>
<div class="t" id="t110" style="left:433.00px;top:1123.04px;font-size:17.44px;color:#1e1e1e;font-weight:400;font-family:'Liberation Sans',sans-serif;transform:scaleX(0.7520);-webkit-text-stroke:0.25px #fff;">Start my veggie juicing program</div>
<div class="t" id="t111" style="left:409.50px;top:1146.27px;font-size:10.90px;color:#333;font-weight:400;font-family:'Liberation Sans',sans-serif;transform:scaleX(0.9167);">2</div>
<div class="t" id="t112" style="left:433.00px;top:1144.54px;font-size:17.44px;color:#1e1e1e;font-weight:400;font-family:'Liberation Sans',sans-serif;transform:scaleX(0.7919);-webkit-text-stroke:0.25px #fff;">3 days of fasting</div>
<div class="t" id="t113" style="left:409.50px;top:1167.97px;font-size:10.90px;color:#333;font-weight:400;font-family:'Liberation Sans',sans-serif;transform:scaleX(0.9167);">3</div>
<div class="t" id="t114" style="left:432.23px;top:1166.24px;font-size:17.44px;color:#1e1e1e;font-weight:400;font-family:'Liberation Sans',sans-serif;transform:scaleX(0.7689);-webkit-text-stroke:0.25px #fff;">Exercise 3 times a week</div>
<div class="t" id="t115" style="left:409.50px;top:1189.27px;font-size:10.90px;color:#333;font-weight:400;font-family:'Liberation Sans',sans-serif;transform:scaleX(0.9167);">1</div>
<div class="t" id="t116" style="left:432.25px;top:1187.54px;font-size:17.44px;color:#1e1e1e;font-weight:400;font-family:'Liberation Sans',sans-serif;transform:scaleX(0.7522);-webkit-text-stroke:0.25px #fff;">Re-structure S+P meeting</div>
<div class="t" id="t117" style="left:409.50px;top:1210.87px;font-size:10.90px;color:#333;font-weight:400;font-family:'Liberation Sans',sans-serif;transform:scaleX(0.9167);">2</div>
<div class="t" id="t118" style="left:433.00px;top:1209.14px;font-size:17.44px;color:#1e1e1e;font-weight:400;font-family:'Liberation Sans',sans-serif;transform:scaleX(0.7780);-webkit-text-stroke:0.25px #fff;">2 Times 4 days booth this month</div>
<div class="t" id="t119" style="left:409.50px;top:1232.27px;font-size:10.90px;color:#333;font-weight:400;font-family:'Liberation Sans',sans-serif;transform:scaleX(0.9167);">3</div>
<div class="t" id="t120" style="left:433.00px;top:1230.54px;font-size:17.44px;color:#1e1e1e;font-weight:400;font-family:'Liberation Sans',sans-serif;transform:scaleX(0.7520);-webkit-text-stroke:0.25px #fff;">Cash reward for those who hit 100%</div>
<div class="t" id="t121" style="left:409.50px;top:1252.97px;font-size:10.90px;color:#333;font-weight:400;font-family:'Liberation Sans',sans-serif;transform:scaleX(0.9167);">1</div>
<div class="t" id="t122" style="left:433.00px;top:1251.24px;font-size:17.44px;color:#1e1e1e;font-weight:400;font-family:'Liberation Sans',sans-serif;transform:scaleX(0.7285);-webkit-text-stroke:0.25px #fff;">Send out 100 proposals every day</div>
<div class="t" id="t123" style="left:409.50px;top:1274.57px;font-size:10.90px;color:#333;font-weight:400;font-family:'Liberation Sans',sans-serif;transform:scaleX(0.9167);">2</div>
<div class="t" id="t124" style="left:432.26px;top:1272.84px;font-size:17.44px;color:#1e1e1e;font-weight:400;font-family:'Liberation Sans',sans-serif;transform:scaleX(0.7432);-webkit-text-stroke:0.25px #fff;">Make 10 calls a day</div>
<div class="t" id="t125" style="left:409.50px;top:1295.87px;font-size:10.90px;color:#333;font-weight:400;font-family:'Liberation Sans',sans-serif;transform:scaleX(0.9167);">3</div>
<div class="t" id="t126" style="left:433.00px;top:1294.14px;font-size:17.44px;color:#1e1e1e;font-weight:400;font-family:'Liberation Sans',sans-serif;transform:scaleX(0.7533);-webkit-text-stroke:0.25px #fff;">Affiliate program</div>
<div class="t" id="t127" style="left:452.00px;top:1324.00px;font-size:9.45px;color:#2a2a2a;font-weight:400;font-family:'Liberation Sans',sans-serif;transform:scaleX(0.7358);">THREE GOALS SET</div>
<svg style="position:absolute;left:519px;top:1319px;" width="22" height="16" viewBox="0 0 22 16"><rect x="3" y="5" width="11" height="10" fill="none" stroke="#bbb" stroke-width="1"/><path d="M2 9 L7 14 L16 2" stroke="#111" stroke-width="1.6" fill="none"/><path d="M19 7 L21.5 10 L19 13" stroke="#888" stroke-width="0.9" fill="none"/></svg>
<div class="t" id="t128" style="left:604.50px;top:1324.00px;font-size:9.45px;color:#2a2a2a;font-weight:400;font-family:'Liberation Sans',sans-serif;transform:scaleX(0.7619);">ACTION STEPS SET</div>
<svg style="position:absolute;left:675px;top:1319px;" width="22" height="16" viewBox="0 0 22 16"><rect x="3" y="5" width="11" height="10" fill="none" stroke="#bbb" stroke-width="1"/><path d="M2 9 L7 14 L16 2" stroke="#111" stroke-width="1.6" fill="none"/><path d="M19 7 L21.5 10 L19 13" stroke="#888" stroke-width="0.9" fill="none"/></svg>
<div style="position:absolute;left:684.8px;top:1201.9px;width:37px;height:37px;border-radius:50%;background:#fff;"></div>
<div style="position:absolute;left:686.3px;top:1203.4px;width:34px;height:34px;border-radius:50%;background:#123f7d;"></div>
<div class="t" id="t129" style="left:695.92px;top:1206.00px;font-size:28.66px;color:#fff;font-weight:700;font-family:'Liberation Sans',sans-serif;transform:scaleX(0.9229);">6</div>
<div style="position:absolute;left:797px;top:1122px;width:611px;height:200px;background-image:radial-gradient(circle,#8f8f8f 0,#8f8f8f 1px,transparent 1.5px);background-size:12.8px 12.8px;background-position:2px 1px;"></div>
<div style="position:absolute;left:797px;top:1096.5px;width:610px;height:20px;border-bottom:1px solid #d4d4d4;border-left:1px solid #d8d8d8;background:#fbfbfb;"></div>
<div style="position:absolute;left:877px;top:1097px;width:1px;height:19.5px;background:#d4d4d4;"></div>
<div style="position:absolute;left:969.5px;top:1097px;width:1px;height:19.5px;background:#d4d4d4;"></div>
<div style="position:absolute;left:1069.4px;top:1097px;width:1px;height:19.5px;background:#d4d4d4;"></div>
<div style="position:absolute;left:1142.7px;top:1097px;width:1px;height:19.5px;background:#d4d4d4;"></div>
<div style="position:absolute;left:1314.7px;top:1097px;width:1px;height:19.5px;background:#d4d4d4;"></div>
<div class="t" id="t130" style="left:819.40px;top:1100.67px;font-size:12.79px;color:#2a2a2a;font-weight:400;font-family:'Liberation Sans',sans-serif;transform:scaleX(0.9041);">IDEAS</div>
<div class="t" id="t131" style="left:891.00px;top:1100.67px;font-size:12.79px;color:#2a2a2a;font-weight:400;font-family:'Liberation Sans',sans-serif;transform:scaleX(0.8843);">GRATITUDE</div>
<div class="t" id="t132" style="left:988.80px;top:1100.67px;font-size:12.79px;color:#2a2a2a;font-weight:400;font-family:'Liberation Sans',sans-serif;transform:scaleX(0.9041);">VICTORIES</div>
<div class="t" id="t133" style="left:1084.05px;top:1100.67px;font-size:12.79px;color:#2a2a2a;font-weight:400;font-family:'Liberation Sans',sans-serif;transform:scaleX(0.9481);">NOTES</div>
<div class="t" id="t134" style="left:1161.80px;top:1100.67px;font-size:12.79px;color:#2a2a2a;font-weight:400;font-family:'Liberation Sans',sans-serif;transform:scaleX(0.9001);">PROJECT FLOW CHART</div>
<div class="t" id="t135" style="left:1328.90px;top:1100.67px;font-size:12.79px;color:#2a2a2a;font-weight:400;font-family:'Liberation Sans',sans-serif;transform:scaleX(0.9955);">MIND MAP</div>
<svg style="position:absolute;left:0;top:0;" width="1500" height="1500" viewBox="0 0 1500 1500"><g stroke="#9b4766" stroke-width="1.6" fill="none"><path d="M942 1166.8 L1026 1183.6"/><path d="M945 1268.7 L1024 1216.9"/><path d="M1177 1184 L1265 1163"/><path d="M1177 1217 L1209 1233.3"/></g><g stroke="#b0587c" stroke-width="2.4" fill="none" stroke-linecap="round"><path d="M1383.2 1273 L1383.2 1224 Q1383 1210 1362 1208.4"/><path d="M1370.4 1201.5 L1361.6 1208.4 L1369.6 1216.4"/><path d="M1349.6 1300.4 L1298 1300.4"/><path d="M1304 1293.5 L1297.6 1300.4 L1304 1309.2"/></g></svg>
<div style="position:absolute;left:800.6px;top:1123.9px;width:133.89999999999998px;height:39.399999999999864px;background:#ead5de;border:1.5px solid #c86a8c;border-radius:2px;"></div>
<div style="position:absolute;left:813.6px;top:1139.2px;width:110.4px;height:20.2px;background:#86a3d6;"></div>
<div class="t" id="t136" style="left:819.21px;top:1140.74px;font-size:17.44px;color:#1e1e1e;font-weight:400;font-family:'Liberation Sans',sans-serif;transform:scaleX(0.7899);-webkit-text-stroke:0.25px #86a3d6;">Reward System</div>
<div class="t" id="t137" style="left:808.19px;top:1173.11px;font-size:13.81px;color:#1e1e1e;font-weight:400;font-family:'Liberation Sans',sans-serif;transform:scaleX(0.8097);-webkit-text-stroke:0.25px #fff;">R1: cash instant reward</div>
<div class="t" id="t138" style="left:808.19px;top:1190.31px;font-size:13.81px;color:#1e1e1e;font-weight:400;font-family:'Liberation Sans',sans-serif;transform:scaleX(0.8139);-webkit-text-stroke:0.25px #fff;">R2: Top #1 recognition</div>
<div class="t" id="t139" style="left:808.14px;top:1207.71px;font-size:13.81px;color:#1e1e1e;font-weight:400;font-family:'Liberation Sans',sans-serif;transform:scaleX(0.8610);-webkit-text-stroke:0.25px #fff;">R3: Team reward</div>
<div style="position:absolute;left:800.6px;top:1271.9px;width:133.89999999999998px;height:38.899999999999864px;background:#ead5de;border:1.5px solid #c86a8c;border-radius:2px;"></div>
<div class="t" id="t140" style="left:814.00px;top:1285.62px;font-size:18.17px;color:#1e1e1e;font-weight:400;font-family:'Liberation Sans',sans-serif;transform:scaleX(0.7645);-webkit-text-stroke:0.25px #ead5de;">Weekly Reflection</div>
<div style="position:absolute;left:1025.8px;top:1183px;width:150.2px;height:33.9px;background:#efd27f;"></div>
<div class="t" id="t141" style="left:1037.00px;top:1189.77px;font-size:20.35px;color:#1e1e1e;font-weight:400;font-family:'Liberation Sans',sans-serif;transform:scaleX(0.8379);-webkit-text-stroke:0.25px #efd27f;">$80,000 in sales</div>
<div style="position:absolute;left:1272px;top:1124px;width:134.29999999999995px;height:39.700000000000045px;background:#ead5de;border:1.5px solid #c86a8c;border-radius:2px;"></div>
<div style="position:absolute;left:1289.9px;top:1129.3px;width:103.4px;height:16px;background:#e07aa0;"></div>
<div style="position:absolute;left:1293px;top:1145.3px;width:100px;height:16px;background:#e07aa0;"></div>
<div class="t" id="t142" style="left:1294.16px;top:1129.85px;font-size:16.72px;color:#1e1e1e;font-weight:400;font-family:'Liberation Sans',sans-serif;transform:scaleX(0.8386);-webkit-text-stroke:0.25px #e07aa0;">Restructive S2</div>
<div class="t" id="t143" style="left:1316.21px;top:1144.85px;font-size:16.72px;color:#1e1e1e;font-weight:400;font-family:'Liberation Sans',sans-serif;transform:scaleX(0.7913);-webkit-text-stroke:0.25px #e07aa0;">Meeting</div>
<div class="t" id="t144" style="left:1236.59px;top:1120.13px;font-size:13.08px;color:#1e1e1e;font-weight:400;font-family:'Liberation Sans',sans-serif;transform:scaleX(0.9053);-webkit-text-stroke:0.25px #fff;">North</div>
<div class="t" id="t145" style="left:1232.00px;top:1134.93px;font-size:13.08px;color:#1e1e1e;font-weight:400;font-family:'Liberation Sans',sans-serif;transform:scaleX(0.7881);-webkit-text-stroke:0.25px #fff;">Central</div>
<div class="t" id="t146" style="left:1237.50px;top:1149.73px;font-size:13.08px;color:#1e1e1e;font-weight:400;font-family:'Liberation Sans',sans-serif;transform:scaleX(0.8200);-webkit-text-stroke:0.25px #fff;">South</div>
<div class="t" id="t147" style="left:1260.44px;top:1182.40px;font-size:14.53px;color:#1e1e1e;font-weight:400;font-family:'Liberation Sans',sans-serif;transform:scaleX(0.8587);-webkit-text-stroke:0.25px #fff;">Booth 2: 3/5 - 3/6</div>
<div class="t" id="t148" style="left:1260.55px;top:1197.70px;font-size:14.53px;color:#1e1e1e;font-weight:400;font-family:'Liberation Sans',sans-serif;transform:scaleX(0.7501);-webkit-text-stroke:0.25px #fff;">Leads: Alex</div>
<div class="t" id="t149" style="left:1261.30px;top:1212.20px;font-size:14.53px;color:#1e1e1e;font-weight:400;font-family:'Liberation Sans',sans-serif;transform:scaleX(0.8387);-webkit-text-stroke:0.25px #fff;">Team B</div>
<div style="position:absolute;left:1214.7px;top:1234px;width:135.0999999999999px;height:39.799999999999955px;background:#ead5de;border:1.5px solid #c86a8c;border-radius:2px;"></div>
<div class="t" id="t150" style="left:1233.96px;top:1249.12px;font-size:18.17px;color:#1e1e1e;font-weight:400;font-family:'Liberation Sans',sans-serif;transform:scaleX(0.7366);-webkit-text-stroke:0.25px #ead5de;">More Roadshow</div>
<div class="t" id="t151" style="left:1211.23px;top:1277.00px;font-size:14.53px;color:#1e1e1e;font-weight:400;font-family:'Liberation Sans',sans-serif;transform:scaleX(0.7733);-webkit-text-stroke:0.25px #fff;">Booth 1: 3/8 - 3/11</div>
<div class="t" id="t152" style="left:1211.25px;top:1291.70px;font-size:14.53px;color:#1e1e1e;font-weight:400;font-family:'Liberation Sans',sans-serif;transform:scaleX(0.7487);-webkit-text-stroke:0.25px #fff;">Lead: Angela</div>
<div class="t" id="t153" style="left:1212.00px;top:1306.40px;font-size:14.53px;color:#1e1e1e;font-weight:400;font-family:'Liberation Sans',sans-serif;transform:scaleX(0.8278);-webkit-text-stroke:0.25px #fff;">Team A</div>
<div class="t" id="t154" style="left:1366.70px;top:1275.94px;font-size:17.44px;color:#1e1e1e;font-weight:400;font-family:'Liberation Sans',sans-serif;transform:scaleX(0.9525);-webkit-text-stroke:0.25px #fff;">$$$</div>
<div class="t" id="t155" style="left:1353.96px;top:1294.54px;font-size:17.44px;color:#1e1e1e;font-weight:400;font-family:'Liberation Sans',sans-serif;transform:scaleX(0.7432);-webkit-text-stroke:0.25px #fff;">Rewards</div>
<div class="t" id="t156" style="left:972.39px;top:1252.11px;font-size:13.81px;color:#1e1e1e;font-weight:400;font-family:'Liberation Sans',sans-serif;transform:scaleX(0.8121);-webkit-text-stroke:0.25px #fff;">1. Submit sales report every friday.</div>
<div class="t" id="t157" style="left:973.20px;top:1266.91px;font-size:13.81px;color:#1e1e1e;font-weight:400;font-family:'Liberation Sans',sans-serif;transform:scaleX(0.7883);-webkit-text-stroke:0.25px #fff;">2. Team competition</div>
<div class="t" id="t158" style="left:973.20px;top:1281.71px;font-size:13.81px;color:#1e1e1e;font-weight:400;font-family:'Liberation Sans',sans-serif;transform:scaleX(0.8098);-webkit-text-stroke:0.25px #fff;">3. Team presentation</div>
<div class="t" id="t159" style="left:973.20px;top:1296.51px;font-size:13.81px;color:#1e1e1e;font-weight:400;font-family:'Liberation Sans',sans-serif;transform:scaleX(0.7783);-webkit-text-stroke:0.25px #fff;">4. Reflection and solution follow-up</div>
<div class="t" id="t160" style="left:798.00px;top:1323.50px;font-size:9.45px;color:#2a2a2a;font-weight:400;font-family:'Liberation Sans',sans-serif;transform:scaleX(0.7630);">APPOINTMENTS SET</div>
<svg style="position:absolute;left:873px;top:1319px;" width="22" height="16" viewBox="0 0 22 16"><rect x="3" y="5" width="11" height="10" fill="none" stroke="#bbb" stroke-width="1"/><path d="M2 9 L7 14 L16 2" stroke="#111" stroke-width="1.6" fill="none"/><path d="M19 7 L21.5 10 L19 13" stroke="#888" stroke-width="0.9" fill="none"/></svg>
<div class="t" id="t161" style="left:973.20px;top:1323.50px;font-size:9.45px;color:#2a2a2a;font-weight:400;font-family:'Liberation Sans',sans-serif;transform:scaleX(0.7866);">REFLECTION DONE</div>
<svg style="position:absolute;left:1046px;top:1319px;" width="22" height="16" viewBox="0 0 22 16"><rect x="3" y="5" width="11" height="10" fill="none" stroke="#bbb" stroke-width="1"/><path d="M2 9 L7 14 L16 2" stroke="#111" stroke-width="1.6" fill="none"/><path d="M19 7 L21.5 10 L19 13" stroke="#888" stroke-width="0.9" fill="none"/></svg>
<div class="t" id="t162" style="left:1145.30px;top:1323.50px;font-size:9.45px;color:#2a2a2a;font-weight:400;font-family:'Liberation Sans',sans-serif;transform:scaleX(0.7781);">REWARD GIVEN</div>
<svg style="position:absolute;left:1204px;top:1319px;" width="22" height="16" viewBox="0 0 22 16"><rect x="3" y="5" width="11" height="10" fill="none" stroke="#bbb" stroke-width="1"/><path d="M2 9 L7 14 L16 2" stroke="#111" stroke-width="1.6" fill="none"/><path d="M19 7 L21.5 10 L19 13" stroke="#888" stroke-width="0.9" fill="none"/></svg>
<div class="t" id="t163" style="left:1304.00px;top:1323.50px;font-size:9.45px;color:#2a2a2a;font-weight:400;font-family:'Liberation Sans',sans-serif;transform:scaleX(0.8016);">NEXT MONTH PLANNED</div>
<svg style="position:absolute;left:1394px;top:1319px;" width="22" height="16" viewBox="0 0 22 16"><rect x="3" y="5" width="11" height="10" fill="none" stroke="#bbb" stroke-width="1"/><path d="M2 9 L7 14 L16 2" stroke="#111" stroke-width="1.6" fill="none"/><path d="M19 7 L21.5 10 L19 13" stroke="#888" stroke-width="0.9" fill="none"/></svg>
<div style="position:absolute;left:1390.0px;top:1202.0px;width:36.0px;height:36.0px;border-radius:50%;background:#fff;"></div>
<div style="position:absolute;left:1391.5px;top:1203.5px;width:33.0px;height:33.0px;border-radius:50%;background:#123f7d;"></div>
<div class="t" id="t164" style="left:1401.73px;top:1206.02px;font-size:27.82px;color:#fff;font-weight:700;font-family:'Liberation Sans',sans-serif;transform:scaleX(0.7837);">4</div>
<div style="position:absolute;left:1390.0px;top:742.0px;width:36.0px;height:36.0px;border-radius:50%;background:#fff;"></div>
<div style="position:absolute;left:1391.5px;top:743.5px;width:33.0px;height:33.0px;border-radius:50%;background:#123f7d;"></div>
<div class="t" id="t165" style="left:1401.73px;top:746.02px;font-size:27.82px;color:#fff;font-weight:700;font-family:'Liberation Sans',sans-serif;transform:scaleX(0.8360);">3</div>
<div style="position:absolute;left:51.2px;top:1372px;width:651.3px;height:112px;border-radius:7px;background:rgba(255,255,255,0.9);"></div>
<div style="position:absolute;left:52.7px;top:1420px;width:648.3px;height:62px;border-radius:0 0 7px 7px;background:#e8a54b;box-shadow:0 2px 4px rgba(0,0,0,0.12);"></div>
<div style="position:absolute;left:52.7px;top:1373.5px;width:648.3px;height:101.5px;border-radius:6px;background:#123f7d;"></div>
<div style="position:absolute;left:759.5px;top:1372px;width:703px;height:112px;border-radius:7px;background:rgba(255,255,255,0.9);"></div>
<div style="position:absolute;left:761px;top:1420px;width:700px;height:62px;border-radius:0 0 7px 7px;background:#e8a54b;box-shadow:0 2px 4px rgba(0,0,0,0.12);"></div>
<div style="position:absolute;left:761px;top:1373.5px;width:700px;height:101.5px;border-radius:6px;background:#123f7d;"></div>
<div class="t" id="t166" style="left:102.27px;top:1382.32px;font-size:32.70px;color:#fff;font-weight:400;font-family:'Liberation Sans',sans-serif;transform:scaleX(0.8634);">MOST IMPORTANT GOALS THIS MONTH</div>
<div class="t" id="t167" style="left:132.35px;top:1418.47px;font-size:25.44px;color:#fff;font-weight:400;font-family:'Liberation Sans',sans-serif;transform:scaleX(0.8239);">DEFINE A COMPELLING &#8220;WHY&#8221;, SET A REWARD</div>
<div class="t" id="t168" style="left:227.34px;top:1449.47px;font-size:25.44px;color:#fff;font-weight:400;font-family:'Liberation Sans',sans-serif;transform:scaleX(0.8277);">IF YOUR GOAL IS ACHIEVED</div>
<div class="t" id="t169" style="left:793.31px;top:1394.20px;font-size:33.43px;color:#fff;font-weight:400;font-family:'Liberation Sans',sans-serif;transform:scaleX(0.8430);">MOST IMPORTANT ACTIONS FOR THIS MONTH</div>
<div class="t" id="t170" style="left:972.50px;top:1430.97px;font-size:25.44px;color:#fff;font-weight:400;font-family:'Liberation Sans',sans-serif;transform:scaleX(0.8405);">TOP 3 ACTIONS PER GOAL</div>
<div style="position:absolute;left:28.700000000000003px;top:1400px;width:48px;height:48px;border-radius:50%;background:#fff;"></div>
<div style="position:absolute;left:32.7px;top:1404px;width:40px;height:40px;border-radius:50%;background:#123f7d;"></div>
<div class="t" id="t171" style="left:46.20px;top:1408.66px;font-size:30.52px;color:#fff;font-weight:700;font-family:'Liberation Sans',sans-serif;transform:scaleX(0.7647);">5</div>
<div style="position:absolute;left:737px;top:1397px;width:48px;height:48px;border-radius:50%;background:#fff;"></div>
<div style="position:absolute;left:741px;top:1401px;width:40px;height:40px;border-radius:50%;background:#123f7d;"></div>
<div class="t" id="t172" style="left:753.63px;top:1405.66px;font-size:30.52px;color:#fff;font-weight:700;font-family:'Liberation Sans',sans-serif;transform:scaleX(0.8667);">6</div></body></html>
